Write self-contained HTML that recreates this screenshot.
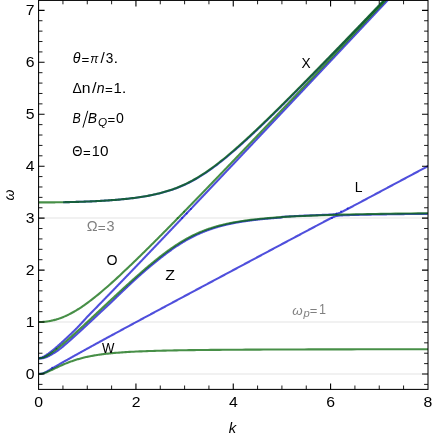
<!DOCTYPE html><html><head><meta charset="utf-8"><style>html,body{margin:0;padding:0;background:#fff}body{width:434px;height:437px;position:relative;overflow:hidden;font-family:"Liberation Sans",sans-serif}</style></head><body><svg width="434" height="437" viewBox="0 0 434 437" style="position:absolute;left:0;top:0;will-change:transform">
<rect x="0" y="0" width="434" height="437" fill="#fff"/>
<rect x="38.58" y="373.1" width="389.42" height="1.8" fill="#f0f0f0"/>
<rect x="38.58" y="321.1" width="389.42" height="1.8" fill="#f0f0f0"/>
<rect x="38.58" y="217.1" width="389.42" height="1.8" fill="#f0f0f0"/>
<clipPath id="c"><rect x="38.58" y="0.4" width="389.42" height="389.0"/></clipPath>
<g clip-path="url(#c)" fill="none" stroke-linejoin="round">
<path d="M63.12,202.21 L64.26,202.19 L65.44,202.16 L66.05,202.15 L66.68,202.14 L67.31,202.13 L67.96,202.11 L68.63,202.10 L69.31,202.08 L70.00,202.07 L70.71,202.05 L71.43,202.03 L72.17,202.01 L72.93,201.99 L73.70,201.97 L74.48,201.95 L75.28,201.93 L76.10,201.91 L76.93,201.88 L77.78,201.86 L78.65,201.83 L79.53,201.80 L80.43,201.77 L81.35,201.74 L82.29,201.71 L83.24,201.68 L84.22,201.64 L85.21,201.61 L86.21,201.57 L87.24,201.53 L88.29,201.48 L89.35,201.44 L90.43,201.39 L91.53,201.35 L92.65,201.30 L93.79,201.24 L94.95,201.19 L96.13,201.13 L97.32,201.07 L98.54,201.00 L99.77,200.94 L101.02,200.87 L102.29,200.79 L103.58,200.72 L104.89,200.63 L106.21,200.55 L107.55,200.46 L108.91,200.37 L110.29,200.27 L111.68,200.17 L113.10,200.06 L114.52,199.95 L115.97,199.84 L117.43,199.71 L118.90,199.59 L120.39,199.45 L121.89,199.31 L123.41,199.17 L124.94,199.01 L126.48,198.85 L128.04,198.68 L129.61,198.51 L131.19,198.32 L132.78,198.13 L134.38,197.92 L135.98,197.71 L137.60,197.49 L139.23,197.26 L140.86,197.01 L142.50,196.76 L144.15,196.49 L145.81,196.21 L147.47,195.91 L149.13,195.61 L150.81,195.29 L152.48,194.95 L154.16,194.59 L155.84,194.23 L157.53,193.84 L159.22,193.43 L160.92,193.01 L162.62,192.56 L164.32,192.10 L166.03,191.61 L167.74,191.10 L169.45,190.56 L171.17,190.00 L172.90,189.42 L174.63,188.80 L176.36,188.16 L178.11,187.48 L179.86,186.78 L181.62,186.04 L183.40,185.27 L185.18,184.46 L186.98,183.61 L188.79,182.72 L190.62,181.79 L192.47,180.81 L194.33,179.79 L196.22,178.72 L198.13,177.60 L200.07,176.43 L202.04,175.20 L204.04,173.91 L206.08,172.57 L208.15,171.16 L210.26,169.68 L212.41,168.13 L214.62,166.51 L216.87,164.82 L219.18,163.04 L221.54,161.18 L223.97,159.23 L226.46,157.19 L229.02,155.05 L231.67,152.81 L234.39,150.47 L235.01,149.93 L235.63,149.39 L236.25,148.85 L236.86,148.31 L237.48,147.77 L238.09,147.22 L238.70,146.68 L239.31,146.14 L239.92,145.60 L240.52,145.06 L241.12,144.52 L241.73,143.98 L242.33,143.44 L242.93,142.90 L243.52,142.35 L244.12,141.81 L244.72,141.27 L245.31,140.73 L245.90,140.19 L246.49,139.65 L247.08,139.11 L247.67,138.57 L248.26,138.03 L248.84,137.49 L249.43,136.94 L250.01,136.40 L250.59,135.86 L251.17,135.32 L251.75,134.78 L252.33,134.24 L252.91,133.70 L253.49,133.16 L254.06,132.62 L254.64,132.07 L255.21,131.53 L255.79,130.99 L256.36,130.45 L256.93,129.91 L257.50,129.37 L258.07,128.83 L258.64,128.29 L259.21,127.75 L259.78,127.20 L260.34,126.66 L260.91,126.12 L261.47,125.58 L262.04,125.04 L262.60,124.50 L263.17,123.96 L263.73,123.42 L264.29,122.88 L264.85,122.33 L265.41,121.79 L265.97,121.25 L266.53,120.71 L267.09,120.17 L267.64,119.63 L268.20,119.09 L268.76,118.55 L269.31,118.01 L269.87,117.47 L270.42,116.92 L270.98,116.38 L271.53,115.84 L272.09,115.30 L272.64,114.76 L273.19,114.22 L273.74,113.68 L274.29,113.14 L274.84,112.60 L275.39,112.05 L275.94,111.51 L276.49,110.97 L277.04,110.43 L277.59,109.89 L278.14,109.35 L278.68,108.81 L279.23,108.27 L279.78,107.73 L280.32,107.18 L280.87,106.64 L281.42,106.10 L281.96,105.56 L282.51,105.02 L283.05,104.48 L283.59,103.94 L284.14,103.40 L284.68,102.86 L285.22,102.32 L285.77,101.77 L286.31,101.23 L286.85,100.69 L287.39,100.15 L287.93,99.61 L288.47,99.07 L289.01,98.53 L289.55,97.99 L290.09,97.45 L290.63,96.90 L291.17,96.36 L291.71,95.82 L292.25,95.28 L292.79,94.74 L293.32,94.20 L293.86,93.66 L294.40,93.12 L294.94,92.58 L295.47,92.03 L296.01,91.49 L296.55,90.95 L297.08,90.41 L297.62,89.87 L298.15,89.33 L298.69,88.79 L299.22,88.25 L299.76,87.71 L300.29,87.17 L300.83,86.62 L301.36,86.08 L301.90,85.54 L302.43,85.00 L302.96,84.46 L303.50,83.92 L304.03,83.38 L304.56,82.84 L305.09,82.30 L305.63,81.75 L306.16,81.21 L306.69,80.67 L307.22,80.13 L307.75,79.59 L308.28,79.05 L308.82,78.51 L309.35,77.97 L309.88,77.43 L310.41,76.88 L310.94,76.34 L311.47,75.80 L312.00,75.26 L312.53,74.72 L313.06,74.18 L313.59,73.64 L314.12,73.10 L314.65,72.56 L315.17,72.02 L315.70,71.47 L316.23,70.93 L316.76,70.39 L317.29,69.85 L317.82,69.31 L318.34,68.77 L318.87,68.23 L319.40,67.69 L319.93,67.15 L320.45,66.60 L320.98,66.06 L321.51,65.52 L322.03,64.98 L322.56,64.44 L323.09,63.90 L323.61,63.36 L324.14,62.82 L324.67,62.28 L325.19,61.73 L325.72,61.19 L326.24,60.65 L326.77,60.11 L327.30,59.57 L327.82,59.03 L328.35,58.49 L328.87,57.95 L329.40,57.41 L329.92,56.87 L330.45,56.32 L330.97,55.78 L331.49,55.24 L332.02,54.70 L332.54,54.16 L333.07,53.62 L333.59,53.08 L334.12,52.54 L334.64,52.00 L335.16,51.45 L335.69,50.91 L336.21,50.37 L336.73,49.83 L337.26,49.29 L337.78,48.75 L338.30,48.21 L338.83,47.67 L339.35,47.13 L339.87,46.58 L340.39,46.04 L340.92,45.50 L341.44,44.96 L341.96,44.42 L342.48,43.88 L343.01,43.34 L343.53,42.80 L344.05,42.26 L344.57,41.71 L345.09,41.17 L345.61,40.63 L346.14,40.09 L346.66,39.55 L347.18,39.01 L347.70,38.47 L348.22,37.93 L348.74,37.39 L349.26,36.85 L349.78,36.30 L350.30,35.76 L350.83,35.22 L351.35,34.68 L351.87,34.14 L352.39,33.60 L352.91,33.06 L353.43,32.52 L353.95,31.98 L354.47,31.43 L354.99,30.89 L355.51,30.35 L356.03,29.81 L356.55,29.27 L357.07,28.73 L357.59,28.19 L358.11,27.65 L358.63,27.11 L359.15,26.56 L359.67,26.02 L360.19,25.48 L360.71,24.94 L361.22,24.40 L361.74,23.86 L362.26,23.32 L362.78,22.78 L363.30,22.24 L363.82,21.70 L364.34,21.15 L364.86,20.61 L365.38,20.07 L365.89,19.53 L366.41,18.99 L366.93,18.45 L367.45,17.91 L367.97,17.37 L368.49,16.83 L369.01,16.28 L369.52,15.74 L370.04,15.20 L370.56,14.66 L371.08,14.12 L371.60,13.58 L372.11,13.04 L372.63,12.50 L373.15,11.96 L373.67,11.41 L374.18,10.87 L374.70,10.33 L375.22,9.79 L375.74,9.25 L376.25,8.71 L376.77,8.17 L377.29,7.63 L377.81,7.09 L378.32,6.55 L378.84,6.00 L379.36,5.46 L379.88,4.92 L380.39,4.38 L380.91,3.84 L381.43,3.30 L381.94,2.76 L382.46,2.22 L382.98,1.68 L383.49,1.13 L384.01,0.59 L384.53,0.05 L385.04,-0.49 L385.56,-1.03 L386.08,-1.57 L386.59,-2.11 L387.11,-2.65 L387.63,-3.19 L388.14,-3.74 L388.66,-4.28 L389.17,-4.82 L389.69,-5.36 L390.21,-5.90 L390.72,-6.44 L391.24,-6.98 L391.75,-7.52 L392.27,-8.06 L392.79,-8.60 L393.30,-9.15 L393.82,-9.69 L394.33,-10.23 L394.85,-10.77 L395.37,-11.31 L395.88,-11.85 L396.40,-12.39 L396.91,-12.93 L397.43,-13.47 L397.94,-14.02 L398.46,-14.56 L398.97,-15.10 L399.49,-15.64 L400.00,-16.18 L400.52,-16.72 L401.03,-17.26 L401.55,-17.80 L402.07,-18.34 L402.58,-18.89 L403.10,-19.43 L403.61,-19.97 L404.13,-20.51" stroke="#0000cd" stroke-opacity="0.69" stroke-width="2.1"/>
<path d="M38.62,358.27 L39.27,358.13 L39.93,357.99 L40.58,357.82 L41.23,357.61 L41.89,357.36 L42.54,357.09 L43.19,356.79 L43.85,356.46 L44.50,356.11 L45.15,355.73 L45.80,355.34 L46.46,354.92 L47.11,354.49 L47.76,354.05 L48.42,353.59 L49.07,353.11 L49.72,352.63 L50.38,352.13 L51.03,351.63 L51.68,351.11 L52.34,350.59 L52.99,350.06 L53.64,349.52 L54.30,348.98 L54.62,348.71 L54.95,348.43 L55.28,348.16 L55.60,347.88 L55.93,347.60 L56.26,347.32 L56.58,347.04 L56.91,346.75 L57.23,346.47 L57.56,346.18 L57.89,345.90 L58.21,345.61 L58.54,345.32 L58.87,345.03 L59.19,344.74 L59.52,344.45 L59.85,344.16 L60.17,343.86 L60.50,343.57 L60.83,343.28 L61.15,342.98 L61.48,342.68 L61.81,342.38 L62.13,342.09 L62.46,341.79 L62.79,341.49 L63.11,341.19 L63.44,340.89 L63.77,340.58 L64.09,340.28 L64.42,339.98 L64.75,339.68 L65.07,339.38 L65.40,339.08 L65.73,338.77 L66.05,338.47 L66.38,338.17 L66.71,337.86 L67.03,337.56 L67.36,337.26 L67.69,336.95 L68.01,336.65 L68.34,336.34 L68.67,336.03 L68.99,335.73 L69.32,335.42 L69.64,335.11 L69.97,334.80 L70.30,334.49 L70.62,334.18 L70.95,333.87 L71.28,333.56 L71.60,333.24 L71.93,332.93 L72.26,332.61 L72.58,332.30 L72.91,331.98 L73.24,331.66 L73.56,331.34 L73.89,331.02 L74.22,330.70 L74.54,330.37 L74.87,330.05 L75.20,329.72 L75.52,329.40 L75.85,329.07 L76.18,328.74 L76.50,328.41 L76.83,328.07 L77.16,327.74 L77.48,327.40 L77.81,327.06 L78.14,326.72 L78.46,326.38 L78.79,326.04 L79.12,325.70 L79.44,325.36 L79.77,325.01 L80.10,324.66 L80.42,324.32 L80.75,323.97 L81.08,323.62 L81.40,323.27 L81.73,322.92 L82.05,322.56 L82.38,322.21 L82.71,321.85 L83.03,321.50 L83.36,321.14 L83.69,320.78 L84.01,320.43 L84.34,320.07 L84.67,319.71 L84.99,319.35 L85.32,318.98 L85.65,318.62 L85.97,318.26 L86.30,317.90 L86.63,317.53 L86.95,317.17 L87.28,316.80 L88.58,315.47 L90.47,313.53 L92.46,311.50 L94.53,309.37 L96.69,307.15 L98.96,304.83 L99.32,304.46 L99.74,304.03 L100.17,303.59 L100.59,303.16 L101.01,302.72 L101.44,302.29 L101.86,301.85 L102.28,301.42 L102.71,300.98 L103.13,300.55 L103.55,300.11 L103.98,299.68 L104.40,299.24 L104.82,298.81 L105.24,298.37 L105.67,297.94 L106.09,297.51 L106.51,297.07 L106.93,296.64 L107.36,296.20 L107.78,295.77 L108.20,295.33 L108.62,294.90 L109.04,294.46 L109.47,294.03 L109.89,293.59 L110.31,293.16 L110.73,292.72 L111.15,292.29 L111.57,291.85 L111.99,291.41 L112.41,290.98 L112.84,290.54 L113.26,290.11 L113.68,289.67 L114.10,289.24 L114.52,288.80 L114.94,288.37 L115.36,287.93 L115.78,287.50 L116.20,287.06 L116.62,286.63 L117.04,286.20 L117.46,285.76 L117.88,285.33 L118.30,284.89 L118.72,284.46 L119.14,284.02 L119.56,283.59 L119.98,283.15 L120.40,282.72 L120.82,282.28 L121.24,281.85 L121.66,281.42 L122.08,280.98 L122.50,280.55 L122.92,280.11 L123.34,279.68 L123.76,279.24 L124.18,278.81 L124.60,278.37 L125.02,277.94 L125.44,277.50 L125.86,277.07 L126.27,276.64 L126.69,276.20 L127.11,275.77 L127.53,275.33 L127.95,274.90 L128.37,274.46 L128.79,274.03 L129.21,273.59 L129.63,273.16 L130.04,272.72 L130.46,272.29 L130.88,271.85 L131.30,271.42 L131.72,270.98 L132.14,270.55 L132.56,270.11 L132.97,269.67 L133.39,269.24 L133.81,268.80 L134.23,268.37 L134.65,267.93 L135.06,267.49 L135.48,267.06 L135.90,266.62 L136.32,266.19 L136.74,265.75 L137.16,265.31 L137.57,264.88 L137.99,264.44 L138.41,264.00 L138.83,263.57 L139.24,263.13 L139.66,262.69 L140.08,262.26 L140.50,261.82 L140.92,261.38 L141.33,260.95 L141.75,260.51 L142.17,260.07 L142.59,259.64 L143.00,259.20 L143.42,258.76 L143.84,258.33 L144.26,257.89 L144.67,257.45 L145.09,257.02 L145.51,256.58 L145.92,256.14 L146.34,255.71 L146.76,255.27 L147.18,254.83 L147.59,254.40 L148.01,253.96 L148.43,253.52 L148.85,253.09 L149.26,252.65 L149.68,252.21 L150.10,251.77 L150.51,251.34 L150.93,250.90 L151.35,250.46 L151.76,250.03 L152.18,249.59 L152.60,249.15 L153.01,248.72 L153.43,248.28 L153.85,247.84 L154.26,247.40 L154.68,246.97 L155.10,246.53 L155.51,246.09 L155.93,245.66 L156.35,245.22 L156.76,244.78 L157.18,244.34 L157.60,243.91 L158.01,243.47 L158.43,243.03 L158.85,242.59 L159.26,242.16 L159.68,241.72 L160.10,241.28 L160.51,240.85 L160.93,240.41 L161.35,239.97 L161.76,239.53 L162.18,239.10 L162.59,238.66 L163.01,238.22 L163.43,237.78 L163.84,237.35 L164.26,236.91 L164.68,236.47 L165.09,236.03 L165.51,235.60 L165.92,235.16 L166.34,234.72 L166.76,234.28 L167.17,233.85 L167.59,233.41 L168.00,232.97 L168.42,232.53 L168.84,232.10 L169.25,231.66 L169.67,231.22 L170.08,230.78 L170.50,230.35 L170.92,229.91 L171.33,229.47 L171.75,229.03 L172.16,228.60 L172.58,228.16 L172.99,227.72 L173.41,227.28 L173.83,226.85 L174.24,226.41 L174.66,225.97 L175.07,225.53 L175.49,225.10 L175.90,224.66 L176.32,224.22 L176.74,223.78 L177.15,223.34 L177.57,222.91 L177.98,222.47 L178.40,222.03 L178.81,221.59 L179.23,221.16 L179.64,220.72 L180.06,220.28 L180.47,219.84 L180.89,219.41 L181.31,218.97 L181.72,218.53 L182.14,218.09 L182.55,217.66 L182.93,217.26 L183.23,216.94 L183.53,216.63 L183.83,216.31 L184.13,215.99 L184.43,215.67 L184.73,215.36 L185.03,215.04 L185.34,214.72 L185.64,214.40 L185.94,214.09 L186.24,213.77 L186.54,213.45 L186.84,213.14 L187.14,212.82 L187.44,212.50 L187.74,212.18 L188.04,211.87 L188.34,211.55 L188.65,211.23 L188.99,210.87 L189.34,210.50 L189.70,210.12 L190.06,209.74 L190.41,209.37 L190.77,208.99 L191.13,208.61 L191.49,208.24 L191.84,207.86 L192.20,207.48 L192.56,207.11 L192.91,206.73 L193.27,206.35 L193.63,205.98 L193.99,205.60 L194.34,205.22 L194.70,204.85 L195.06,204.47 L195.41,204.09 L195.77,203.72 L196.13,203.34 L196.49,202.96 L196.84,202.59 L197.20,202.21 L197.56,201.83 L198.12,201.24 L198.50,200.84 L198.88,200.44 L199.26,200.04 L199.64,199.63 L200.02,199.23 L200.40,198.83 L200.78,198.43 L201.16,198.03 L201.54,197.63 L201.92,197.23 L202.30,196.83 L202.68,196.42 L203.06,196.02 L203.44,195.62 L203.82,195.22 L204.21,194.82 L204.59,194.42 L204.97,194.02 L205.35,193.62 L205.73,193.21 L206.11,192.81 L206.49,192.41 L206.87,192.01 L207.25,191.61 L207.63,191.21 L208.01,190.81 L208.39,190.41 L208.77,190.00 L209.15,189.60 L209.53,189.20 L209.91,188.80 L210.29,188.40 L210.67,188.00 L211.05,187.60 L211.43,187.20 L211.81,186.79 L212.19,186.39 L212.57,185.99 L212.95,185.59 L213.33,185.19 L213.71,184.79 L214.09,184.39 L214.47,183.99 L214.85,183.58 L215.23,183.18 L215.61,182.78 L215.99,182.38 L216.37,181.98 L216.75,181.58 L217.13,181.18 L217.51,180.78 L217.89,180.37 L218.27,179.97 L218.65,179.57 L219.03,179.17 L219.41,178.77 L219.79,178.37 L220.17,177.97 L220.55,177.57 L220.93,177.16 L221.31,176.76 L221.69,176.36 L222.06,175.96 L222.44,175.56 L222.82,175.16 L223.20,174.76 L223.58,174.36 L223.96,173.95 L224.34,173.55 L224.72,173.15 L225.10,172.75 L225.48,172.35 L225.86,171.95 L226.24,171.55 L226.62,171.15 L227.00,170.74 L227.38,170.34 L227.76,169.94 L228.14,169.54 L228.52,169.14 L228.90,168.74 L229.28,168.34 L229.66,167.94 L230.04,167.53 L230.42,167.13 L230.80,166.73 L231.18,166.33 L231.56,165.93 L231.94,165.53 L232.32,165.13 L232.70,164.73 L233.08,164.32 L233.46,163.92 L233.84,163.52 L234.21,163.12 L234.59,162.72 L234.97,162.32 L235.35,161.92 L235.73,161.52 L236.11,161.11 L236.49,160.71 L236.87,160.31 L237.25,159.91 L237.63,159.51 L238.01,159.11 L238.39,158.71 L238.77,158.30 L239.15,157.90 L239.53,157.50 L239.91,157.10 L240.29,156.70 L240.67,156.30 L241.05,155.90 L241.43,155.50 L241.81,155.09 L242.18,154.69 L242.56,154.29 L242.94,153.89 L243.32,153.49 L243.70,153.09 L244.08,152.69 L244.46,152.29 L244.84,151.88 L245.22,151.48 L245.60,151.08 L245.98,150.68 L246.36,150.28 L246.74,149.88 L247.12,149.48 L247.50,149.08 L247.88,148.67 L248.26,148.27 L248.63,147.87 L249.01,147.47 L249.39,147.07 L249.77,146.67 L250.15,146.27 L250.53,145.86 L250.91,145.46 L251.29,145.06 L251.67,144.66 L252.05,144.26 L252.43,143.86 L252.81,143.46 L253.19,143.06 L253.57,142.65 L253.94,142.25 L254.32,141.85 L254.70,141.45 L255.08,141.05 L255.46,140.65 L255.84,140.25 L256.22,139.84 L256.60,139.44 L256.98,139.04 L257.36,138.64 L257.74,138.24 L258.12,137.84 L258.50,137.44 L258.87,137.04 L259.25,136.63 L259.63,136.23 L260.01,135.83 L260.39,135.43 L260.77,135.03 L261.15,134.63 L261.53,134.23 L261.91,133.82 L262.29,133.42 L262.67,133.02 L263.05,132.62 L263.42,132.22 L263.80,131.82 L264.18,131.42 L264.56,131.02 L264.94,130.61 L265.32,130.21 L265.70,129.81 L266.08,129.41 L266.46,129.01 L266.84,128.61 L267.22,128.21 L267.60,127.80 L267.97,127.40 L268.35,127.00 L268.73,126.60 L269.11,126.20 L269.49,125.80 L269.87,125.40 L270.25,124.99 L270.63,124.59 L271.01,124.19 L271.39,123.79 L271.77,123.39 L272.14,122.99 L272.52,122.59 L272.90,122.18 L273.28,121.78 L273.66,121.38 L274.04,120.98 L274.42,120.58 L274.80,120.18 L275.18,119.78 L275.56,119.37 L275.93,118.97 L276.31,118.57 L276.69,118.17 L277.07,117.77 L277.45,117.37 L277.83,116.97 L278.21,116.56 L278.59,116.16 L278.97,115.76 L279.35,115.36 L279.72,114.96 L280.10,114.56 L280.48,114.15 L280.86,113.75 L281.24,113.35 L281.62,112.95 L282.00,112.55 L282.38,112.15 L282.76,111.75 L283.13,111.34 L283.51,110.94 L283.89,110.54 L284.27,110.14 L284.65,109.74 L285.03,109.34 L285.41,108.93 L285.79,108.53 L286.17,108.13 L286.54,107.73 L286.92,107.33 L287.30,106.93 L287.68,106.53 L288.06,106.12 L288.44,105.72 L288.82,105.32 L289.20,104.92 L289.58,104.52 L289.95,104.12 L290.33,103.71 L290.71,103.31 L291.09,102.91 L291.47,102.51 L291.85,102.11 L292.23,101.71 L292.61,101.31 L292.99,100.90 L293.36,100.50 L293.74,100.10 L294.12,99.70 L294.50,99.30 L294.88,98.90 L295.26,98.49 L295.64,98.09 L296.02,97.69 L296.39,97.29 L296.77,96.89 L297.15,96.49 L297.53,96.08 L297.91,95.68 L298.29,95.28 L298.67,94.88 L299.05,94.48 L299.42,94.08 L299.80,93.67 L300.18,93.27 L300.56,92.87 L300.94,92.47 L301.32,92.07 L301.70,91.67 L302.08,91.26 L302.45,90.86 L302.83,90.46 L303.21,90.06 L303.59,89.66 L303.97,89.26 L304.35,88.85 L304.73,88.45 L305.11,88.05 L305.48,87.65 L305.86,87.25 L306.24,86.84 L306.62,86.44 L307.00,86.04 L307.38,85.64 L307.76,85.24 L308.14,84.84 L308.51,84.43 L308.89,84.03 L309.27,83.63 L309.65,83.23 L310.03,82.83 L310.41,82.43 L310.79,82.02 L311.17,81.62 L311.54,81.22 L311.92,80.82 L312.30,80.42 L312.68,80.01 L313.06,79.61 L313.44,79.21 L313.82,78.81 L314.19,78.41 L314.57,78.01 L314.95,77.60 L315.33,77.20 L315.71,76.80 L316.09,76.40 L316.47,76.00 L316.84,75.59 L317.22,75.19 L317.60,74.79 L317.98,74.39 L318.36,73.99 L318.74,73.58 L319.12,73.18 L319.50,72.78 L319.87,72.38 L320.25,71.98 L320.63,71.58 L321.01,71.17 L321.39,70.77 L321.77,70.37 L322.15,69.97 L322.52,69.57 L322.90,69.16 L323.28,68.76 L323.66,68.36 L324.04,67.96 L324.42,67.56 L324.80,67.15 L325.17,66.75 L325.55,66.35 L325.93,65.95 L326.31,65.55 L326.69,65.14 L327.07,64.74 L327.45,64.34 L327.82,63.94 L328.20,63.54 L328.58,63.13 L328.96,62.73 L329.34,62.33 L329.72,61.93 L330.10,61.53 L330.47,61.12 L330.85,60.72 L331.23,60.32 L331.61,59.92 L331.99,59.52 L332.37,59.11 L332.74,58.71 L333.12,58.31 L333.50,57.91 L333.88,57.50 L334.26,57.10 L334.64,56.70 L335.02,56.30 L335.39,55.90 L335.77,55.49 L336.15,55.09 L336.53,54.69 L336.91,54.29 L337.29,53.89 L337.67,53.48 L338.04,53.08 L338.42,52.68 L338.80,52.28 L339.18,51.87 L339.56,51.47 L339.94,51.07 L340.31,50.67 L340.69,50.27 L341.07,49.86 L341.45,49.46 L341.83,49.06 L342.21,48.66 L342.59,48.25 L342.96,47.85 L343.34,47.45 L343.72,47.05 L344.10,46.65 L344.48,46.24 L344.86,45.84 L345.23,45.44 L345.61,45.04 L345.99,44.63 L346.37,44.23 L346.75,43.83 L347.13,43.43 L347.51,43.02 L347.88,42.62 L348.26,42.22 L348.64,41.82 L349.02,41.42 L349.40,41.01 L349.78,40.61 L350.15,40.21 L350.53,39.81 L350.91,39.40 L351.29,39.00 L351.67,38.60 L352.05,38.20 L352.42,37.79 L352.80,37.39 L353.18,36.99 L353.56,36.59 L353.94,36.18 L354.32,35.78 L354.69,35.38 L355.07,34.98 L355.45,34.57 L355.83,34.17 L356.21,33.77 L356.59,33.37 L356.97,32.96 L357.34,32.56 L357.72,32.16 L358.10,31.76 L358.48,31.35 L358.86,30.95 L359.24,30.55 L359.61,30.15 L359.99,29.74 L360.37,29.34 L360.75,28.94 L361.13,28.54 L361.51,28.13 L361.88,27.73 L362.26,27.33 L362.64,26.93 L363.02,26.52 L363.40,26.12 L363.78,25.72 L364.15,25.32 L364.53,24.91 L364.91,24.51 L365.29,24.11 L365.67,23.71 L366.05,23.30 L366.42,22.90 L366.80,22.50 L367.18,22.09 L367.56,21.69 L367.94,21.29 L368.32,20.89 L368.69,20.48 L369.07,20.08 L369.45,19.68 L369.83,19.28 L370.21,18.87 L370.59,18.47 L370.96,18.07 L371.34,17.66 L371.72,17.26 L372.10,16.86 L372.48,16.46 L372.86,16.05 L373.23,15.65 L373.61,15.25 L373.99,14.84 L374.37,14.44 L374.75,14.04 L375.12,13.64 L375.50,13.23 L375.88,12.83 L376.26,12.43 L376.64,12.02 L377.02,11.62 L377.39,11.22 L377.77,10.82 L378.15,10.41 L378.53,10.01 L378.91,9.61 L379.29,9.20 L379.66,8.80 L380.04,8.40 L380.42,8.00 L380.80,7.59 L381.18,7.19 L381.56,6.79 L381.93,6.38 L382.31,5.98 L382.69,5.58 L383.07,5.18 L383.45,4.77 L383.82,4.37 L384.20,3.97 L384.58,3.56 L384.96,3.16 L385.34,2.76 L385.72,2.35 L386.09,1.95 L386.47,1.55 L386.85,1.15 L387.23,0.74 L387.61,0.34 L387.99,-0.06 L388.36,-0.47 L388.74,-0.87 L389.12,-1.27 L389.50,-1.67 L389.88,-2.08 L390.25,-2.48 L390.63,-2.88 L391.01,-3.29 L391.39,-3.69 L391.77,-4.09 L392.15,-4.49 L392.52,-4.90 L392.90,-5.30 L393.28,-5.70 L393.66,-6.11 L394.04,-6.51 L394.42,-6.91 L394.79,-7.32 L395.17,-7.72 L395.55,-8.12 L395.93,-8.52 L396.31,-8.93 L396.68,-9.33 L397.06,-9.73 L397.44,-10.14 L397.82,-10.54 L398.20,-10.94 L398.58,-11.34 L398.95,-11.75 L399.33,-12.15 L399.71,-12.55 L400.09,-12.96 L400.47,-13.36 L400.84,-13.76 L401.22,-14.17 L401.60,-14.57 L401.98,-14.97 L402.36,-15.37 L402.74,-15.78 L403.11,-16.18 L403.49,-16.58 L403.87,-16.99 L404.25,-17.39 L404.63,-17.79 L405.00,-18.19 L405.38,-18.60 L405.76,-19.00 L406.14,-19.40 L406.52,-19.81 L406.89,-20.21 L407.27,-20.61" stroke="#0000cd" stroke-opacity="0.69" stroke-width="2.1"/>
<path d="M38.62,358.27 L39.35,358.33 L40.09,358.38 L40.82,358.39 L41.55,358.34 L42.29,358.25 L43.02,358.13 L43.75,357.96 L44.49,357.76 L45.22,357.53 L45.96,357.26 L46.69,356.97 L47.42,356.66 L48.16,356.32 L48.89,355.96 L49.62,355.57 L50.36,355.17 L51.09,354.76 L51.82,354.33 L52.56,353.90 L53.29,353.45 L54.02,353.00 L54.76,352.53 L55.13,352.30 L55.49,352.06 L55.86,351.82 L56.23,351.57 L56.59,351.33 L56.96,351.08 L57.33,350.83 L57.69,350.57 L58.06,350.31 L58.43,350.05 L58.79,349.79 L59.16,349.52 L59.53,349.25 L59.89,348.97 L60.26,348.69 L60.63,348.41 L60.99,348.12 L61.36,347.84 L61.73,347.54 L62.09,347.24 L62.46,346.94 L62.83,346.64 L63.19,346.33 L63.56,346.01 L63.93,345.70 L64.29,345.39 L64.66,345.07 L65.03,344.76 L65.40,344.44 L65.76,344.13 L66.13,343.81 L66.50,343.49 L66.86,343.17 L67.23,342.85 L67.60,342.53 L67.96,342.21 L68.33,341.89 L68.70,341.57 L69.06,341.24 L69.43,340.92 L69.80,340.60 L70.16,340.27 L70.53,339.95 L70.90,339.62 L71.26,339.29 L71.63,338.97 L72.00,338.64 L72.36,338.31 L72.73,337.98 L73.10,337.65 L73.46,337.32 L73.83,336.99 L74.20,336.66 L74.56,336.33 L74.93,336.00 L75.30,335.67 L75.67,335.33 L76.03,335.00 L76.40,334.67 L76.77,334.33 L77.13,334.00 L77.50,333.67 L77.87,333.33 L78.23,333.00 L78.60,332.66 L78.97,332.33 L79.33,331.99 L79.70,331.65 L80.07,331.32 L80.43,330.98 L80.80,330.64 L81.17,330.30 L81.53,329.97 L81.90,329.63 L82.27,329.29 L82.63,328.95 L83.00,328.61 L83.37,328.28 L83.73,327.94 L84.10,327.60 L84.47,327.26 L84.83,326.92 L85.20,326.58 L85.57,326.24 L85.94,325.90 L86.30,325.56 L86.67,325.22 L87.04,324.87 L87.40,324.53 L87.77,324.19 L88.14,323.85 L88.50,323.51 L88.87,323.17 L89.24,322.83 L89.60,322.48 L89.97,322.14 L90.34,321.80 L90.70,321.46 L91.07,321.12 L91.44,320.77 L91.80,320.43 L92.17,320.09 L92.54,319.75 L92.90,319.41 L93.27,319.06 L93.64,318.72 L94.00,318.38 L94.37,318.03 L94.74,317.69 L95.10,317.35 L95.47,317.01 L95.84,316.66 L96.21,316.32 L96.57,315.98 L96.94,315.63 L97.31,315.29 L97.67,314.95 L98.04,314.60 L98.41,314.26 L98.77,313.92 L99.14,313.58 L99.51,313.23 L99.87,312.89 L100.24,312.55 L100.61,312.20 L100.97,311.86 L101.34,311.52 L101.71,311.17 L102.07,310.83 L102.44,310.49 L102.81,310.15 L103.17,309.80 L103.54,309.46 L103.91,309.12 L104.27,308.77 L104.64,308.43 L105.01,308.09 L105.37,307.75 L105.74,307.40 L106.11,307.06 L106.48,306.72 L106.84,306.38 L107.21,306.03 L107.58,305.69 L107.94,305.35 L108.31,305.01 L108.68,304.67 L109.04,304.32 L109.41,303.98 L109.78,303.64 L110.14,303.30 L110.51,302.96 L110.88,302.62 L111.24,302.27 L111.61,301.93 L111.98,301.58 L112.34,301.22 L112.71,300.86 L113.07,300.51 L113.44,300.15 L113.80,299.80 L114.17,299.44 L114.53,299.09 L114.90,298.73 L115.26,298.38 L115.63,298.03 L115.99,297.67 L116.36,297.32 L116.72,296.97 L117.09,296.61 L117.45,296.26 L117.82,295.91 L118.18,295.56 L118.55,295.21 L118.91,294.85 L119.28,294.50 L119.64,294.15 L120.01,293.80 L120.37,293.45 L120.74,293.10 L121.10,292.75 L121.47,292.41 L121.83,292.06 L122.20,291.71 L122.56,291.36 L122.93,291.01 L123.29,290.66 L123.66,290.32 L124.02,289.97 L124.39,289.62 L124.75,289.28 L125.12,288.93 L125.48,288.59 L125.85,288.24 L126.21,287.90 L126.58,287.55 L126.94,287.21 L127.31,286.87 L127.67,286.52 L128.04,286.18 L128.40,285.84 L128.77,285.49 L129.13,285.15 L129.50,284.81 L129.86,284.47 L130.23,284.13 L130.59,283.79 L130.96,283.45 L131.32,283.11 L131.69,282.77 L132.05,282.43 L132.42,282.09 L132.78,281.76 L133.15,281.42 L133.51,281.08 L133.88,280.74 L134.24,280.41 L134.61,280.07 L134.97,279.74 L135.34,279.40 L135.70,279.07 L136.07,278.73 L136.43,278.40 L136.80,278.06 L137.17,277.73 L137.53,277.40 L137.90,277.07 L138.26,276.74 L138.63,276.41 L138.99,276.09 L139.36,275.76 L139.72,275.43 L140.09,275.11 L140.45,274.78 L140.82,274.46 L141.18,274.14 L141.55,273.82 L141.91,273.49 L142.28,273.17 L142.64,272.85 L143.01,272.53 L143.37,272.22 L143.74,271.90 L144.10,271.58 L144.47,271.27 L144.83,270.95 L145.20,270.64 L145.56,270.32 L145.93,270.01 L146.29,269.70 L146.66,269.38 L147.02,269.07 L147.39,268.76 L147.75,268.45 L148.12,268.14 L148.48,267.84 L148.85,267.53 L149.21,267.22 L149.58,266.91 L149.94,266.61 L150.31,266.30 L150.67,266.00 L151.04,265.69 L151.40,265.39 L151.77,265.09 L152.13,264.79 L152.50,264.49 L152.86,264.19 L153.23,263.89 L153.59,263.59 L153.96,263.29 L154.32,262.99 L154.69,262.69 L155.05,262.39 L155.42,262.10 L155.78,261.80 L156.15,261.51 L156.51,261.21 L156.88,260.92 L157.24,260.62 L157.61,260.33 L157.97,260.04 L158.34,259.75 L158.70,259.46 L159.07,259.17 L159.43,258.88 L159.80,258.59 L160.16,258.30 L160.53,258.01 L160.89,257.72 L161.26,257.43 L161.62,257.15 L161.99,256.86 L162.35,256.58 L162.72,256.30 L163.09,256.01 L163.45,255.73 L163.82,255.45 L164.18,255.17 L164.55,254.89 L164.91,254.61 L165.28,254.34 L165.64,254.06 L166.01,253.78 L166.37,253.51 L166.74,253.24 L167.10,252.96 L167.47,252.69 L167.83,252.42 L168.20,252.15 L168.56,251.88 L168.93,251.62 L169.29,251.35 L169.66,251.08 L170.02,250.82 L170.39,250.56 L170.75,250.29 L171.12,250.03 L171.48,249.77 L171.85,249.51 L172.21,249.25 L172.58,249.00 L172.94,248.74 L173.31,248.49 L173.67,248.23 L174.04,247.98 L174.40,247.73 L174.77,247.48 L175.13,247.23 L175.50,246.98 L175.86,246.74 L176.23,246.49 L176.59,246.25 L176.96,246.00 L177.32,245.76 L177.69,245.52 L178.05,245.28 L178.42,245.04 L178.78,244.81 L179.15,244.57 L179.64,244.26 L180.12,243.95 L180.61,243.64 L181.10,243.34 L181.58,243.03 L182.07,242.73 L182.56,242.43 L183.04,242.14 L183.53,241.84 L184.02,241.55 L184.50,241.26 L184.99,240.98 L185.48,240.69 L185.96,240.41 L186.45,240.13 L186.94,239.86 L187.42,239.58 L187.91,239.31 L188.40,239.04 L188.88,238.78 L189.37,238.51 L189.86,238.25 L190.34,237.99 L190.83,237.74 L191.32,237.48 L191.80,237.23 L192.29,236.98 L192.78,236.73 L193.26,236.49 L193.75,236.25 L194.24,236.01 L194.72,235.77 L195.21,235.54 L195.70,235.30 L196.18,235.07 L196.67,234.84 L197.16,234.62 L197.65,234.40 L198.13,234.17 L198.62,233.96 L199.11,233.74 L199.59,233.52 L200.08,233.31 L200.57,233.10 L201.05,232.89 L201.54,232.69 L202.03,232.49 L202.51,232.28 L203.00,232.08 L203.49,231.89 L203.97,231.69 L204.46,231.50 L204.95,231.31 L205.43,231.12 L205.92,230.93 L206.41,230.74 L206.89,230.56 L207.38,230.38 L207.87,230.20 L208.35,230.02 L208.84,229.84 L209.33,229.67 L209.81,229.49 L210.30,229.32 L210.79,229.16 L211.27,228.99 L211.76,228.82 L212.25,228.66 L212.73,228.50 L213.22,228.34 L213.71,228.18 L214.20,228.03 L214.68,227.88 L215.17,227.72 L215.66,227.58 L216.14,227.43 L216.63,227.28 L217.12,227.14 L217.60,226.99 L218.09,226.85 L218.58,226.71 L219.06,226.58 L219.55,226.44 L220.04,226.31 L220.52,226.18 L221.01,226.04 L221.50,225.92 L221.98,225.79 L222.47,225.66 L222.96,225.54 L223.44,225.41 L223.93,225.29 L224.42,225.17 L224.90,225.05 L225.39,224.94 L225.88,224.82 L226.36,224.71 L226.97,224.57 L227.58,224.43 L228.19,224.29 L228.80,224.16 L229.41,224.02 L230.01,223.89 L230.62,223.77 L231.23,223.64 L231.84,223.51 L232.45,223.39 L233.06,223.27 L233.67,223.15 L234.27,223.03 L234.88,222.92 L235.49,222.80 L236.10,222.69 L236.71,222.58 L237.32,222.47 L237.92,222.37 L238.53,222.26 L239.14,222.16 L239.75,222.05 L240.36,221.95 L240.97,221.85 L241.58,221.75 L242.18,221.66 L242.79,221.56 L243.40,221.47 L244.01,221.38 L244.62,221.28 L245.23,221.19 L245.83,221.10 L246.44,221.02 L247.05,220.93 L247.66,220.85 L248.27,220.76 L248.88,220.68 L249.49,220.60 L250.09,220.52 L250.70,220.44 L251.31,220.36 L251.92,220.28 L252.53,220.21 L253.14,220.13 L253.74,220.06 L254.35,219.98 L254.96,219.91 L255.57,219.84 L256.18,219.77 L256.79,219.70 L257.40,219.63 L258.00,219.57 L258.61,219.50 L259.22,219.43 L259.83,219.37 L260.44,219.31 L261.05,219.24 L261.65,219.18 L262.26,219.12 L262.87,219.06 L263.48,219.00 L264.09,218.94 L264.70,218.88 L265.31,218.82 L265.91,218.77 L266.52,218.71 L267.13,218.66 L267.74,218.60 L268.35,218.55 L268.96,218.49 L269.56,218.44 L270.17,218.39 L270.78,218.34 L271.39,218.29 L272.00,218.24 L272.61,218.19 L273.22,218.14 L273.82,218.09 L274.43,218.04 L275.04,217.99 L275.65,217.95 L276.26,217.90 L276.87,217.85 L277.47,217.81 L278.08,217.77 L278.69,217.72 L279.30,217.68 L279.91,217.63 L280.52,217.59 L281.12,217.55 L281.73,217.51 L281.98,216.85 L282.59,216.81 L283.19,216.77 L283.80,216.74 L284.41,216.70 L285.02,216.66 L285.63,216.63 L286.24,216.59 L286.84,216.55 L287.45,216.52 L288.06,216.48 L288.67,216.44 L289.28,216.41 L289.89,216.38 L290.50,216.34 L291.10,216.31 L291.71,216.28 L292.32,216.24 L292.93,216.21 L293.54,216.18 L294.15,216.15 L294.75,216.11 L295.36,216.08 L295.97,216.05 L296.58,216.02 L297.19,215.99 L297.80,215.96 L298.41,215.93 L299.01,215.90 L299.62,215.87 L300.23,215.84 L300.84,215.81 L301.45,215.78 L302.06,215.75 L302.66,215.73 L303.27,215.70 L303.88,215.67 L304.49,215.64 L305.10,215.62 L305.71,215.59 L306.31,215.57 L306.92,215.54 L307.53,215.51 L308.14,215.49 L308.75,215.46 L309.36,215.43 L309.97,215.41 L310.57,215.38 L311.18,215.36 L311.79,215.33 L312.40,215.31 L313.01,215.28 L313.62,215.26 L314.22,215.24 L314.83,215.21 L315.44,215.19 L316.05,215.17 L316.66,215.14 L317.27,215.12 L317.88,215.09 L318.48,215.07 L319.09,215.05 L319.70,215.02 L320.31,215.00 L320.92,214.97 L321.53,214.95 L322.13,214.92 L322.74,214.90 L323.35,214.88 L323.96,214.86 L324.57,214.83 L325.18,214.81 L325.79,214.78 L326.39,214.76 L327.00,214.73 L327.61,214.71 L328.22,214.68 L328.83,214.65 L329.44,214.62 L330.04,214.59 L330.65,214.56 L331.26,214.52 L331.87,214.48 L332.48,214.44 L333.09,214.39 L333.70,214.34 L334.30,214.28 L334.91,214.20 L335.52,214.11 L336.13,214.01 L336.74,213.88 L337.22,213.75 L337.71,213.61 L338.20,213.45 L338.68,213.27 L339.17,213.08 L339.66,212.88 L340.14,212.67 L340.63,212.44 L341.12,212.22 L341.61,211.98 L342.09,211.75 L342.58,211.51 L343.07,211.27 L343.55,211.02 L344.04,210.77 L344.53,210.53 L345.01,210.28 L345.50,210.03 L345.99,209.78 L346.47,209.52 L346.96,209.27 L347.45,209.02 L347.93,208.76 L348.42,208.51 L348.91,208.25 L349.39,208.00 L349.88,207.74 L350.37,207.49 L350.85,207.23 L351.34,206.97 L351.83,206.72 L352.31,206.46 L352.80,206.20 L353.29,205.95 L353.77,205.69 L354.26,205.43 L354.75,205.17 L355.23,204.91 L355.72,204.66 L356.21,204.40 L356.69,204.14 L357.18,203.88 L357.67,203.62 L358.16,203.37 L358.64,203.11 L359.13,202.85 L359.62,202.59 L360.10,202.33 L360.59,202.07 L361.08,201.81 L361.56,201.56 L362.05,201.30 L362.54,201.04 L363.02,200.78 L363.51,200.52 L364.00,200.26 L364.48,200.00 L364.97,199.74 L365.46,199.49 L365.94,199.23 L366.43,198.97 L366.92,198.71 L367.40,198.45 L367.89,198.19 L368.38,197.93 L368.86,197.67 L369.35,197.41 L369.84,197.15 L370.32,196.89 L370.81,196.63 L371.30,196.38 L371.78,196.12 L372.27,195.86 L372.76,195.60 L373.24,195.34 L373.73,195.08 L374.22,194.82 L374.70,194.56 L375.19,194.30 L375.68,194.04 L376.17,193.78 L376.65,193.52 L377.14,193.26 L377.63,193.00 L378.11,192.74 L378.60,192.48 L379.09,192.23 L379.57,191.97 L380.06,191.71 L380.55,191.45 L381.03,191.19 L381.52,190.93 L382.01,190.67 L382.49,190.41 L382.98,190.15 L383.47,189.89 L383.95,189.63 L384.44,189.37 L384.93,189.11 L385.41,188.85 L385.90,188.59 L386.39,188.33 L386.87,188.07 L387.36,187.81 L387.85,187.55 L388.33,187.29 L388.82,187.03 L389.31,186.78 L389.79,186.52 L390.28,186.26 L390.77,186.00 L391.25,185.74 L391.74,185.48 L392.23,185.22 L392.72,184.96 L393.20,184.70 L393.69,184.44 L394.18,184.18 L394.66,183.92 L395.15,183.66 L395.64,183.40 L396.12,183.14 L396.61,182.88 L397.10,182.62 L397.58,182.36 L398.07,182.10 L398.56,181.84 L399.04,181.58 L399.53,181.32 L400.02,181.06 L400.50,180.80 L400.99,180.54 L401.48,180.28 L401.96,180.02 L402.45,179.76 L402.94,179.50 L403.42,179.25 L403.91,178.99 L404.40,178.73 L404.88,178.47 L405.37,178.21 L405.86,177.95 L406.34,177.69 L406.83,177.43 L407.32,177.17 L407.80,176.91 L408.29,176.65 L408.78,176.39 L409.27,176.13 L409.75,175.87 L410.24,175.61 L410.73,175.35 L411.21,175.09 L411.70,174.83 L412.19,174.57 L412.67,174.31 L413.16,174.05 L413.65,173.79 L414.13,173.53 L414.62,173.27 L415.11,173.01 L415.59,172.75 L416.08,172.49 L416.57,172.23 L417.05,171.97 L417.54,171.71 L418.03,171.45 L418.51,171.19 L419.00,170.93 L419.49,170.67 L419.97,170.41 L420.46,170.16 L420.95,169.90 L421.43,169.64 L421.92,169.38 L422.41,169.12 L422.89,168.86 L423.38,168.60 L423.87,168.34 L424.35,168.08 L424.84,167.82 L425.33,167.56 L425.82,167.30 L426.30,167.04 L426.79,166.78 L427.28,166.52 L427.76,166.26 L428.25,166.00 L428.74,165.74 L429.22,165.48 L429.71,165.22 L430.20,164.96 L430.68,164.70 L431.17,164.44 L431.66,164.18 L432.14,163.92 L432.63,163.66 L433.12,163.40 L433.60,163.14 L434.09,162.88 L434.58,162.62 L435.06,162.36 L435.55,162.10 L436.04,161.84 L436.52,161.58 L437.01,161.32 L437.50,161.06 L437.98,160.80 L438.47,160.54 L438.96,160.28 L439.44,160.02 L439.93,159.76 L440.42,159.50 L440.90,159.25 L441.39,158.99 L441.88,158.73 L442.36,158.47 L442.85,158.21 L443.34,157.95 L443.83,157.69 L444.31,157.43 L444.80,157.17 L445.29,156.91 L445.77,156.65 L446.26,156.39 L446.75,156.13 L447.23,155.87 L447.72,155.61 L448.21,155.35 L448.69,155.09 L449.18,154.83 L449.67,154.57 L450.15,154.31 L450.64,154.05 L451.13,153.79 L451.61,153.53 L452.10,153.27 L452.59,153.01 L453.07,152.75 L453.56,152.49 L454.05,152.23 L454.53,151.97 L455.02,151.71 L455.51,151.45 L455.99,151.19 L456.48,150.93 L456.97,150.67" stroke="#0000cd" stroke-opacity="0.69" stroke-width="2.1"/>
<path d="M38.62,373.90 L39.35,373.86 L40.09,373.81 L40.82,373.73 L41.55,373.62 L42.29,373.47 L43.02,373.29 L43.75,373.08 L44.49,372.86 L45.22,372.43 L45.96,372.00 L46.69,371.57 L47.42,371.14 L48.16,370.71 L48.89,370.28 L49.62,369.86 L50.36,369.43 L51.09,369.00 L51.82,368.58 L52.56,368.16 L53.29,367.73 L54.02,367.31 L54.76,366.89 L55.49,366.47 L56.23,366.05 L56.96,365.62 L57.69,365.21 L58.43,364.79 L59.16,364.37 L59.89,363.95 L60.63,363.53 L61.36,363.11 L62.09,362.70 L62.83,362.28 L63.56,361.87 L64.29,361.45 L65.03,361.04 L65.76,360.62 L66.50,360.21 L67.23,359.80 L67.96,359.38 L68.70,358.97 L69.43,358.56 L70.16,358.15 L70.90,357.74 L71.63,357.32 L72.36,356.91 L73.10,356.50 L73.83,356.09 L74.56,355.69 L75.30,355.28 L76.03,354.87 L76.77,354.46 L77.50,354.05 L78.23,353.64 L78.97,353.24 L79.70,352.83 L80.43,352.42 L81.17,352.02 L81.90,351.61 L82.63,351.20 L83.37,350.80 L84.10,350.39 L84.83,349.99 L85.57,349.58 L86.30,349.18 L87.04,348.78 L87.77,348.37 L88.50,347.97 L89.24,347.56 L89.97,347.16 L90.70,346.76 L91.44,346.36 L92.17,345.95 L92.90,345.55 L93.64,345.15 L94.37,344.75 L95.10,344.35 L95.84,343.94 L96.57,343.54 L97.31,343.14 L98.04,342.74 L98.77,342.34 L99.51,341.94 L100.24,341.54 L100.97,341.14 L101.71,340.74 L102.44,340.34 L103.17,339.94 L103.91,339.54 L104.64,339.14 L105.37,338.74 L106.11,338.34 L106.84,337.94 L107.58,337.54 L108.31,337.15 L109.04,336.75 L109.78,336.35 L110.51,335.95 L111.24,335.55 L111.73,335.29 L112.22,335.02 L112.71,334.76 L113.19,334.50 L113.68,334.23 L114.17,333.97 L114.65,333.70 L115.14,333.44 L115.63,333.18 L116.11,332.91 L116.60,332.65 L117.09,332.39 L117.57,332.12 L118.06,331.86 L118.55,331.60 L119.03,331.33 L119.52,331.07 L120.01,330.81 L120.49,330.54 L120.98,330.28 L121.47,330.02 L121.95,329.75 L122.44,329.49 L122.93,329.23 L123.41,328.97 L123.90,328.70 L124.39,328.44 L124.87,328.18 L125.36,327.91 L125.85,327.65 L126.33,327.39 L126.82,327.13 L127.31,326.86 L127.79,326.60 L128.28,326.34 L128.77,326.08 L129.26,325.81 L129.74,325.55 L130.23,325.29 L130.72,325.03 L131.20,324.76 L131.69,324.50 L132.18,324.24 L132.66,323.98 L133.15,323.72 L133.64,323.45 L134.12,323.19 L134.61,322.93 L135.10,322.67 L135.58,322.40 L136.07,322.14 L136.56,321.88 L137.04,321.62 L137.53,321.36 L138.02,321.09 L138.50,320.83 L138.99,320.57 L139.48,320.31 L139.96,320.05 L140.45,319.79 L140.94,319.52 L141.42,319.26 L141.91,319.00 L142.40,318.74 L142.88,318.48 L143.37,318.22 L143.86,317.95 L144.34,317.69 L144.83,317.43 L145.32,317.17 L145.81,316.91 L146.29,316.65 L146.78,316.39 L147.27,316.12 L147.75,315.86 L148.24,315.60 L148.73,315.34 L149.21,315.08 L149.70,314.82 L150.19,314.56 L150.67,314.29 L151.16,314.03 L151.65,313.77 L152.13,313.51 L152.62,313.25 L153.11,312.99 L153.59,312.73 L154.08,312.47 L154.57,312.20 L155.05,311.94 L155.54,311.68 L156.03,311.42 L156.51,311.16 L157.00,310.90 L157.49,310.64 L157.97,310.38 L158.46,310.12 L158.95,309.85 L159.43,309.59 L159.92,309.33 L160.41,309.07 L160.89,308.81 L161.38,308.55 L161.87,308.29 L162.35,308.03 L162.84,307.77 L163.33,307.51 L163.82,307.25 L164.30,306.98 L164.79,306.72 L165.28,306.46 L165.76,306.20 L166.25,305.94 L166.74,305.68 L167.22,305.42 L167.71,305.16 L168.20,304.90 L168.68,304.64 L169.17,304.38 L169.66,304.12 L170.14,303.86 L170.63,303.60 L171.12,303.33 L171.60,303.07 L172.09,302.81 L172.58,302.55 L173.06,302.29 L173.55,302.03 L174.04,301.77 L174.52,301.51 L175.01,301.25 L175.50,300.99 L175.98,300.73 L176.47,300.47 L176.96,300.21 L177.44,299.95 L177.93,299.69 L178.42,299.43 L178.90,299.17 L179.39,298.90 L179.88,298.64 L180.37,298.38 L180.85,298.12 L181.34,297.86 L181.83,297.60 L182.31,297.34 L182.80,297.08 L183.29,296.82 L183.77,296.56 L184.26,296.30 L184.75,296.04 L185.23,295.78 L185.72,295.52 L186.21,295.26 L186.69,295.00 L187.18,294.74 L187.67,294.48 L188.15,294.22 L188.64,293.96 L189.13,293.70 L189.61,293.44 L190.10,293.18 L190.59,292.92 L191.07,292.66 L191.56,292.39 L192.05,292.13 L192.53,291.87 L193.02,291.61 L193.51,291.35 L193.99,291.09 L194.48,290.83 L194.97,290.57 L195.45,290.31 L195.94,290.05 L196.43,289.79 L196.92,289.53 L197.40,289.27 L197.89,289.01 L198.38,288.75 L198.86,288.49 L199.35,288.23 L199.84,287.97 L200.32,287.71 L200.81,287.45 L201.30,287.19 L201.78,286.93 L202.27,286.67 L202.76,286.41 L203.24,286.15 L203.73,285.89 L204.22,285.63 L204.70,285.37 L205.19,285.11 L205.68,284.85 L206.16,284.59 L206.65,284.33 L207.14,284.07 L207.62,283.81 L208.11,283.55 L208.60,283.29 L209.08,283.03 L209.57,282.77 L210.06,282.51 L210.54,282.25 L211.03,281.99 L211.52,281.73 L212.00,281.47 L212.49,281.21 L212.98,280.95 L213.47,280.69 L213.95,280.43 L214.44,280.17 L214.93,279.91 L215.41,279.65 L215.90,279.39 L216.39,279.13 L216.87,278.87 L217.36,278.61 L217.85,278.35 L218.33,278.09 L218.82,277.83 L219.31,277.57 L219.79,277.31 L220.28,277.05 L220.77,276.79 L221.25,276.52 L221.74,276.26 L222.23,276.00 L222.71,275.74 L223.20,275.48 L223.69,275.22 L224.17,274.96 L224.66,274.70 L225.15,274.44 L225.63,274.18 L226.12,273.92 L226.61,273.66 L227.09,273.40 L227.58,273.14 L228.07,272.88 L228.55,272.62 L229.04,272.36 L229.53,272.10 L230.01,271.84 L230.50,271.58 L230.99,271.32 L231.48,271.06 L231.96,270.80 L232.45,270.54 L232.94,270.28 L233.42,270.02 L233.91,269.76 L234.40,269.50 L234.88,269.24 L235.37,268.98 L235.86,268.72 L236.34,268.46 L236.83,268.20 L237.32,267.94 L237.80,267.68 L238.29,267.42 L238.78,267.16 L239.26,266.90 L239.75,266.64 L240.24,266.38 L240.72,266.13 L241.21,265.87 L241.70,265.61 L242.18,265.35 L242.67,265.09 L243.16,264.83 L243.64,264.57 L244.13,264.31 L244.62,264.05 L245.10,263.79 L245.59,263.53 L246.08,263.27 L246.56,263.01 L247.05,262.75 L247.54,262.49 L248.03,262.23 L248.51,261.97 L249.00,261.71 L249.49,261.45 L249.97,261.19 L250.46,260.93 L250.95,260.67 L251.43,260.41 L251.92,260.15 L252.41,259.89 L252.89,259.63 L253.38,259.37 L253.87,259.11 L254.35,258.85 L254.84,258.59 L255.33,258.33 L255.81,258.07 L256.30,257.81 L256.79,257.55 L257.27,257.29 L257.76,257.03 L258.25,256.77 L258.73,256.51 L259.22,256.25 L259.71,255.99 L260.19,255.73 L260.68,255.47 L261.17,255.21 L261.65,254.95 L262.14,254.69 L262.63,254.43 L263.11,254.17 L263.60,253.91 L264.09,253.65 L264.58,253.39 L265.06,253.13 L265.55,252.87 L266.04,252.61 L266.52,252.35 L267.01,252.09 L267.50,251.83 L267.98,251.57 L268.47,251.31 L268.96,251.05 L269.44,250.79 L269.93,250.53 L270.42,250.27 L270.90,250.01 L271.39,249.75 L271.88,249.49 L272.36,249.23 L272.85,248.97 L273.34,248.71 L273.82,248.45 L274.31,248.19 L274.80,247.93 L275.28,247.67 L275.77,247.41 L276.26,247.15 L276.74,246.89 L277.23,246.63 L277.72,246.37 L278.20,246.11 L278.69,245.85 L279.18,245.59 L279.66,245.33 L280.15,245.07 L280.64,244.81 L281.12,244.55 L281.61,244.29 L282.10,244.06 L282.59,243.80 L283.07,243.54 L283.56,243.28 L284.05,243.02 L284.53,242.76 L285.02,242.50 L285.51,242.24 L285.99,241.98 L286.48,241.72 L286.97,241.46 L287.45,241.20 L287.94,240.94 L288.43,240.68 L288.91,240.42 L289.40,240.16 L289.89,239.91 L290.37,239.65 L290.86,239.39 L291.35,239.13 L291.83,238.87 L292.32,238.61 L292.81,238.35 L293.29,238.09 L293.78,237.83 L294.27,237.57 L294.75,237.31 L295.24,237.05 L295.73,236.79 L296.21,236.53 L296.70,236.27 L297.19,236.01 L297.67,235.75 L298.16,235.49 L298.65,235.23 L299.14,234.98 L299.62,234.72 L300.11,234.46 L300.60,234.20 L301.08,233.94 L301.57,233.68 L302.06,233.42 L302.54,233.16 L303.03,232.90 L303.52,232.64 L304.00,232.38 L304.49,232.12 L304.98,231.86 L305.46,231.60 L305.95,231.35 L306.44,231.09 L306.92,230.83 L307.41,230.57 L307.90,230.31 L308.38,230.05 L308.87,229.79 L309.36,229.53 L309.84,229.27 L310.33,229.01 L310.82,228.76 L311.30,228.50 L311.79,228.24 L312.28,227.98 L312.76,227.72 L313.25,227.46 L313.74,227.20 L314.22,226.94 L314.71,226.69 L315.20,226.43 L315.69,226.17 L316.17,225.91 L316.66,225.65 L317.15,225.40 L317.63,225.14 L318.12,224.88 L318.61,224.62 L319.09,224.36 L319.58,224.11 L320.07,223.85 L320.55,223.59 L321.04,223.34 L321.53,223.08 L322.01,222.82 L322.50,222.57 L322.99,222.31 L323.47,222.05 L323.96,221.80 L324.45,221.54 L324.93,221.29 L325.42,221.03 L325.91,220.78 L326.39,220.53 L326.88,220.27 L327.37,220.02 L327.85,219.77 L328.34,219.52 L328.83,219.27 L329.31,219.02 L329.80,218.78 L330.29,218.53 L330.77,218.29 L331.26,218.05 L331.75,217.82 L332.23,217.59 L332.72,217.36 L333.21,217.14 L333.70,216.93 L334.18,216.73 L334.67,216.55 L335.16,216.38 L335.64,216.22 L336.13,216.09 L336.62,215.97 L337.22,215.84 L337.83,215.74 L338.44,215.66 L339.05,215.59 L339.66,215.53 L340.27,215.48 L340.88,215.44 L341.48,215.40 L342.09,215.37 L342.70,215.34 L343.31,215.31 L343.92,215.28 L344.53,215.25 L345.13,215.23 L345.74,215.21 L346.35,215.18 L346.96,215.16 L347.57,215.14 L348.18,215.12 L348.78,215.10 L349.39,215.09 L350.00,215.07 L350.61,215.05 L351.22,215.03 L351.83,215.02 L352.44,215.00 L353.04,214.98 L353.65,214.97 L354.26,214.95 L354.87,214.94 L355.48,214.92 L356.09,214.91 L356.69,214.89 L357.30,214.88 L357.91,214.86 L358.52,214.85 L359.13,214.83 L359.74,214.82 L360.35,214.81 L360.95,214.79 L361.56,214.78 L362.17,214.77 L362.78,214.75 L363.39,214.74 L364.00,214.73 L364.60,214.72 L365.21,214.70 L365.82,214.69 L366.43,214.68 L367.04,214.67 L367.65,214.66 L368.26,214.64 L368.86,214.63 L369.47,214.62 L370.08,214.61 L370.69,214.60 L371.30,214.58 L371.91,214.57 L372.51,214.56 L373.12,214.55 L373.73,214.54 L374.34,214.53 L374.95,214.52 L375.56,214.51 L376.17,214.50 L376.77,214.49 L377.38,214.48 L377.99,214.47 L378.60,214.46 L379.21,214.45 L379.82,214.44 L380.42,214.42 L381.03,214.41 L381.64,214.41 L382.25,214.40 L382.86,214.39 L383.47,214.38 L384.08,214.37 L384.68,214.36 L385.29,214.35 L385.90,214.34 L386.51,214.33 L387.12,214.32 L387.73,214.31 L388.33,214.30 L388.94,214.29 L389.55,214.28 L390.16,214.27 L390.77,214.26 L391.38,214.26 L391.99,214.25 L392.59,214.24 L393.20,214.23 L393.81,214.22 L394.42,214.21 L395.03,214.20 L395.64,214.19 L396.24,214.19 L396.85,214.18 L397.46,214.17 L398.07,214.16 L398.68,214.15 L399.29,214.15 L399.89,214.14 L400.50,214.13 L401.11,214.12 L401.72,214.11 L402.33,214.11 L402.94,214.10 L403.55,214.09 L404.15,214.08 L404.76,214.07 L405.37,214.07 L405.98,214.06 L406.59,214.05 L407.20,214.04 L407.80,214.04 L408.41,214.03 L409.02,214.02 L409.63,214.02 L410.24,214.01 L410.85,214.00 L411.46,213.99 L412.06,213.99 L412.67,213.98 L413.28,213.97 L413.89,213.97 L414.50,213.96 L415.11,213.95 L415.71,213.94 L416.32,213.94 L416.93,213.93 L417.54,213.92 L418.15,213.92 L418.76,213.91 L419.37,213.90 L419.97,213.90 L420.58,213.89 L421.19,213.88 L421.80,213.88 L422.41,213.87 L423.02,213.87 L423.62,213.86 L424.23,213.85 L424.84,213.85 L425.45,213.84 L426.06,213.83 L426.67,213.83 L427.28,213.82 L427.88,213.82 L428.49,213.81 L429.10,213.80 L429.71,213.80 L430.32,213.79 L430.93,213.79 L431.53,213.78 L432.14,213.77 L432.75,213.77 L433.36,213.76 L433.97,213.76 L434.58,213.75 L435.19,213.75 L435.79,213.74 L436.40,213.73 L437.01,213.73 L437.62,213.72 L438.23,213.72 L438.84,213.71 L439.44,213.71 L440.05,213.70 L440.66,213.70 L441.27,213.69 L441.88,213.68 L442.49,213.68 L443.10,213.67 L443.70,213.67 L444.31,213.66 L444.92,213.66 L445.53,213.65 L446.14,213.65 L446.75,213.64 L447.35,213.64 L447.96,213.63 L448.57,213.63 L449.18,213.62 L449.79,213.62 L450.40,213.61 L451.00,213.61 L451.61,213.60 L452.22,213.60 L452.83,213.59 L453.44,213.59 L454.05,213.58 L454.66,213.58 L455.26,213.57 L455.87,213.57 L456.48,213.56 L457.09,213.56" stroke="#0000cd" stroke-opacity="0.69" stroke-width="2.1"/>
<circle cx="332.0" cy="218.0" r="1.0" fill="#0000cd" fill-opacity="0.6" stroke="none"/>
<circle cx="336.6" cy="213.4" r="1.0" fill="#0000cd" fill-opacity="0.6" stroke="none"/>
<circle cx="341.0" cy="211.6" r="1.0" fill="#0000cd" fill-opacity="0.6" stroke="none"/>
<circle cx="347.6" cy="208.6" r="1.0" fill="#0000cd" fill-opacity="0.6" stroke="none"/>
<circle cx="182.1" cy="218.1" r="1.0" fill="#0000cd" fill-opacity="0.6" stroke="none"/>
<circle cx="186.7" cy="213.5" r="1.0" fill="#0000cd" fill-opacity="0.6" stroke="none"/>
<circle cx="190.9" cy="208.9" r="1.0" fill="#0000cd" fill-opacity="0.6" stroke="none"/>
<circle cx="52.1" cy="367.7" r="1.0" fill="#0000cd" fill-opacity="0.6" stroke="none"/>
<path d="M38.66,202.42 L39.27,202.42 L39.88,202.42 L40.49,202.42 L41.14,202.42 L41.79,202.42 L42.43,202.42 L43.10,202.41 L43.77,202.41 L44.40,202.41 L45.10,202.41 L45.73,202.40 L46.42,202.40 L47.17,202.40 L47.78,202.39 L48.44,202.39 L49.14,202.38 L49.89,202.38 L50.69,202.37 L51.55,202.36 L52.16,202.36 L52.80,202.35 L53.46,202.34 L54.16,202.34 L54.88,202.33 L55.64,202.32 L56.44,202.31 L57.27,202.30 L58.14,202.29 L59.05,202.27 L60.00,202.26 L61.00,202.24 L62.04,202.23 L63.12,202.21 L64.25,202.19 L65.44,202.16 L66.05,202.15 L66.67,202.14 L67.31,202.13 L67.96,202.11 L68.62,202.10 L69.30,202.08 L69.99,202.07 L70.70,202.05 L71.42,202.03 L72.16,202.01 L72.91,201.99 L73.68,201.97 L74.47,201.95 L75.27,201.93 L76.08,201.91 L76.92,201.88 L77.76,201.86 L78.63,201.83 L79.51,201.80 L80.41,201.77 L81.33,201.74 L82.26,201.71 L83.22,201.68 L84.19,201.64 L85.18,201.61 L86.18,201.57 L87.21,201.53 L88.25,201.48 L89.31,201.44 L90.39,201.39 L91.49,201.35 L92.61,201.30 L93.74,201.24 L94.90,201.19 L96.07,201.13 L97.26,201.07 L98.48,201.00 L99.70,200.94 L100.95,200.87 L102.22,200.79 L103.50,200.72 L104.80,200.63 L106.12,200.55 L107.46,200.46 L108.82,200.37 L110.19,200.27 L111.58,200.17 L112.98,200.06 L114.40,199.95 L115.84,199.84 L117.29,199.71 L118.76,199.59 L120.24,199.45 L121.74,199.31 L123.25,199.17 L124.77,199.01 L126.30,198.85 L127.85,198.68 L129.41,198.51 L130.98,198.32 L132.56,198.13 L134.15,197.92 L135.74,197.71 L137.35,197.49 L138.97,197.26 L140.59,197.01 L142.22,196.76 L143.86,196.49 L145.50,196.21 L147.15,195.91 L148.80,195.61 L150.46,195.29 L152.12,194.95 L153.79,194.59 L155.46,194.23 L157.13,193.84 L158.81,193.43 L160.49,193.01 L162.18,192.56 L163.87,192.10 L165.56,191.61 L167.26,191.10 L168.96,190.56 L170.67,190.00 L172.38,189.42 L174.10,188.80 L175.82,188.16 L177.55,187.48 L179.29,186.78 L181.04,186.04 L182.81,185.27 L184.58,184.46 L186.37,183.61 L188.17,182.72 L189.99,181.79 L191.82,180.81 L193.68,179.79 L195.56,178.72 L197.47,177.60 L199.40,176.43 L201.36,175.20 L203.35,173.91 L205.38,172.57 L207.45,171.16 L209.56,169.68 L211.71,168.13 L213.91,166.51 L216.16,164.82 L218.46,163.04 L220.83,161.18 L223.25,159.23 L225.75,157.19 L228.31,155.05 L230.95,152.81 L233.68,150.47 L234.38,149.86 L235.08,149.25 L235.78,148.64 L236.48,148.02 L237.17,147.41 L237.86,146.80 L238.55,146.19 L239.24,145.58 L239.92,144.97 L240.61,144.35 L241.29,143.74 L241.97,143.13 L242.65,142.52 L243.32,141.91 L243.99,141.30 L244.67,140.69 L245.34,140.07 L246.00,139.46 L246.67,138.85 L247.34,138.24 L248.00,137.63 L248.66,137.02 L249.32,136.40 L249.98,135.79 L250.64,135.18 L251.30,134.57 L251.95,133.96 L252.61,133.35 L253.26,132.73 L253.91,132.12 L254.56,131.51 L255.21,130.90 L255.86,130.29 L256.51,129.68 L257.15,129.07 L257.80,128.45 L258.44,127.84 L259.08,127.23 L259.73,126.62 L260.37,126.01 L261.01,125.40 L261.65,124.78 L262.28,124.17 L262.92,123.56 L263.56,122.95 L264.19,122.34 L264.83,121.73 L265.46,121.11 L266.09,120.50 L266.73,119.89 L267.36,119.28 L267.99,118.67 L268.62,118.06 L269.25,117.45 L269.88,116.83 L270.50,116.22 L271.13,115.61 L271.76,115.00 L272.38,114.39 L273.01,113.78 L273.63,113.16 L274.26,112.55 L274.88,111.94 L275.50,111.33 L276.12,110.72 L276.75,110.11 L277.37,109.49 L277.99,108.88 L278.61,108.27 L279.23,107.66 L279.85,107.05 L280.46,106.44 L281.08,105.83 L281.70,105.21 L282.32,104.60 L282.93,103.99 L283.55,103.38 L284.16,102.77 L284.78,102.16 L285.39,101.54 L286.01,100.93 L286.62,100.32 L287.23,99.71 L287.85,99.10 L288.46,98.49 L289.07,97.87 L289.68,97.26 L290.29,96.65 L290.90,96.04 L291.51,95.43 L292.12,94.82 L292.73,94.21 L293.34,93.59 L293.95,92.98 L294.56,92.37 L295.17,91.76 L295.77,91.15 L296.38,90.54 L296.99,89.92 L297.60,89.31 L298.20,88.70 L298.81,88.09 L299.41,87.48 L300.02,86.87 L300.62,86.25 L301.23,85.64 L301.83,85.03 L302.44,84.42 L303.04,83.81 L303.65,83.20 L304.25,82.59 L304.85,81.97 L305.46,81.36 L306.06,80.75 L306.66,80.14 L307.26,79.53 L307.86,78.92 L308.47,78.30 L309.07,77.69 L309.67,77.08 L310.27,76.47 L310.87,75.86 L311.47,75.25 L312.07,74.63 L312.67,74.02 L313.27,73.41 L313.87,72.80 L314.47,72.19 L315.07,71.58 L315.67,70.97 L316.27,70.35 L316.86,69.74 L317.46,69.13 L318.06,68.52 L318.66,67.91 L319.26,67.30 L319.85,66.68 L320.45,66.07 L321.05,65.46 L321.64,64.85 L322.24,64.24 L322.84,63.63 L323.43,63.01 L324.03,62.40 L324.62,61.79 L325.22,61.18 L325.82,60.57 L326.41,59.96 L327.01,59.35 L327.60,58.73 L328.20,58.12 L328.79,57.51 L329.39,56.90 L329.98,56.29 L330.57,55.68 L331.17,55.06 L331.76,54.45 L332.36,53.84 L332.95,53.23 L333.54,52.62 L334.14,52.01 L334.73,51.39 L335.32,50.78 L335.91,50.17 L336.51,49.56 L337.10,48.95 L337.69,48.34 L338.28,47.73 L338.88,47.11 L339.47,46.50 L340.06,45.89 L340.65,45.28 L341.24,44.67 L341.84,44.06 L342.43,43.44 L343.02,42.83 L343.61,42.22 L344.20,41.61 L344.79,41.00 L345.38,40.39 L345.97,39.77 L346.56,39.16 L347.15,38.55 L347.74,37.94 L348.33,37.33 L348.92,36.72 L349.51,36.11 L350.10,35.49 L350.69,34.88 L351.28,34.27 L351.87,33.66 L352.46,33.05 L353.05,32.44 L353.64,31.82 L354.23,31.21 L354.82,30.60 L355.41,29.99 L356.00,29.38 L356.58,28.77 L357.17,28.15 L357.76,27.54 L358.35,26.93 L358.94,26.32 L359.53,25.71 L360.11,25.10 L360.70,24.49 L361.29,23.87 L361.88,23.26 L362.47,22.65 L363.05,22.04 L363.64,21.43 L364.23,20.82 L364.82,20.20 L365.40,19.59 L365.99,18.98 L366.58,18.37 L367.16,17.76 L367.75,17.15 L368.34,16.53 L368.92,15.92 L369.51,15.31 L370.10,14.70 L370.68,14.09 L371.27,13.48 L371.86,12.87 L372.44,12.25 L373.03,11.64 L373.62,11.03 L374.20,10.42 L374.79,9.81 L375.37,9.20 L375.96,8.58 L376.55,7.97 L377.13,7.36 L377.72,6.75 L378.30,6.14 L378.89,5.53 L379.47,4.91 L380.06,4.30 L380.64,3.69 L381.23,3.08 L381.81,2.47 L382.40,1.86 L382.98,1.25 L383.57,0.63 L384.15,0.02 L384.74,-0.59 L385.32,-1.20 L385.91,-1.81 L386.49,-2.42 L387.08,-3.04 L387.66,-3.65 L388.25,-4.26 L388.83,-4.87 L389.42,-5.48 L390.00,-6.09 L390.58,-6.71 L391.17,-7.32 L391.75,-7.93 L392.34,-8.54 L392.92,-9.15 L393.50,-9.76 L394.09,-10.37 L394.67,-10.99 L395.26,-11.60 L395.84,-12.21 L396.42,-12.82 L397.01,-13.43 L397.59,-14.04 L398.17,-14.66 L398.76,-15.27 L399.34,-15.88 L399.92,-16.49 L400.51,-17.10 L401.09,-17.71 L401.67,-18.33 L402.26,-18.94 L402.84,-19.55 L403.42,-20.16 L404.01,-20.77" stroke="#006400" stroke-opacity="0.72" stroke-width="2.1"/>
<path d="M38.65,322.05 L39.26,322.05 L39.87,322.04 L40.50,322.02 L41.08,322.00 L41.67,321.97 L42.30,321.94 L42.94,321.90 L43.57,321.85 L44.13,321.80 L44.76,321.74 L45.45,321.67 L46.03,321.60 L46.65,321.52 L47.33,321.43 L48.06,321.32 L48.58,321.23 L49.13,321.14 L49.71,321.03 L50.32,320.92 L50.97,320.79 L51.65,320.65 L52.37,320.49 L53.13,320.31 L53.93,320.11 L54.78,319.89 L55.67,319.64 L56.61,319.37 L57.10,319.22 L57.60,319.07 L58.12,318.90 L58.65,318.73 L59.20,318.54 L59.76,318.35 L60.33,318.14 L60.92,317.93 L61.53,317.70 L62.16,317.46 L62.80,317.20 L63.46,316.93 L64.14,316.65 L64.83,316.35 L65.55,316.04 L66.29,315.70 L67.05,315.35 L67.83,314.98 L68.63,314.59 L69.46,314.18 L70.31,313.74 L71.18,313.28 L72.08,312.79 L73.01,312.28 L73.97,311.74 L74.95,311.17 L75.97,310.57 L77.02,309.93 L78.10,309.26 L79.21,308.55 L80.37,307.80 L81.56,307.01 L82.79,306.18 L84.06,305.30 L85.37,304.38 L86.73,303.40 L88.14,302.36 L89.60,301.27 L91.11,300.12 L92.68,298.91 L94.30,297.63 L95.99,296.27 L97.75,294.84 L99.57,293.34 L101.46,291.75 L103.44,290.07 L105.49,288.30 L107.63,286.43 L109.86,284.46 L112.19,282.37 L114.62,280.18 L117.15,277.86 L119.80,275.41 L122.57,272.83 L125.46,270.10 L126.10,269.49 L126.74,268.89 L127.38,268.28 L128.02,267.67 L128.66,267.06 L129.29,266.46 L129.93,265.85 L130.56,265.24 L131.19,264.64 L131.83,264.03 L132.46,263.42 L133.09,262.81 L133.72,262.21 L134.34,261.60 L134.97,260.99 L135.60,260.39 L136.22,259.78 L136.85,259.17 L137.47,258.57 L138.10,257.96 L138.72,257.35 L139.34,256.74 L139.96,256.14 L140.58,255.53 L141.20,254.92 L141.82,254.32 L142.44,253.71 L143.06,253.10 L143.68,252.49 L144.29,251.89 L144.91,251.28 L145.52,250.67 L146.14,250.07 L146.75,249.46 L147.37,248.85 L147.98,248.24 L148.59,247.64 L149.20,247.03 L149.82,246.42 L150.43,245.82 L151.04,245.21 L151.65,244.60 L152.26,243.99 L152.87,243.39 L153.48,242.78 L154.08,242.17 L154.69,241.57 L155.30,240.96 L155.91,240.35 L156.51,239.75 L157.12,239.14 L157.72,238.53 L158.33,237.92 L158.93,237.32 L159.54,236.71 L160.14,236.10 L160.75,235.50 L161.35,234.89 L161.95,234.28 L162.56,233.67 L163.16,233.07 L163.76,232.46 L164.36,231.85 L164.96,231.25 L165.56,230.64 L166.17,230.03 L166.77,229.42 L167.37,228.82 L167.97,228.21 L168.56,227.60 L169.16,227.00 L169.76,226.39 L170.36,225.78 L170.96,225.17 L171.56,224.57 L172.16,223.96 L172.75,223.35 L173.35,222.75 L173.95,222.14 L174.54,221.53 L175.14,220.93 L175.74,220.32 L176.33,219.71 L176.93,219.10 L177.52,218.50 L178.12,217.89 L178.71,217.28 L179.31,216.68 L179.90,216.07 L180.50,215.46 L181.09,214.85 L181.68,214.25 L182.28,213.64 L182.87,213.03 L183.47,212.43 L184.06,211.82 L184.65,211.21 L185.24,210.60 L185.84,210.00 L186.43,209.39 L187.02,208.78 L187.61,208.18 L188.20,207.57 L188.79,206.96 L189.39,206.36 L189.98,205.75 L190.57,205.14 L191.16,204.53 L191.75,203.93 L192.34,203.32 L192.93,202.71 L193.52,202.11 L194.11,201.50 L194.70,200.89 L195.29,200.28 L195.88,199.68 L196.47,199.07 L197.06,198.46 L197.65,197.86 L198.23,197.25 L198.82,196.64 L199.41,196.03 L200.00,195.43 L200.59,194.82 L201.18,194.21 L201.76,193.61 L202.35,193.00 L202.94,192.39 L203.53,191.78 L204.11,191.18 L204.70,190.57 L205.29,189.96 L205.87,189.36 L206.46,188.75 L207.05,188.14 L207.63,187.54 L208.22,186.93 L208.81,186.32 L209.39,185.71 L209.98,185.11 L210.57,184.50 L211.15,183.89 L211.74,183.29 L212.32,182.68 L212.91,182.07 L213.49,181.46 L214.08,180.86 L214.66,180.25 L215.25,179.64 L215.83,179.04 L216.42,178.43 L217.00,177.82 L217.59,177.21 L218.17,176.61 L218.76,176.00 L219.34,175.39 L219.92,174.79 L220.51,174.18 L221.09,173.57 L221.68,172.96 L222.26,172.36 L222.84,171.75 L223.43,171.14 L224.01,170.54 L224.59,169.93 L225.18,169.32 L225.76,168.72 L226.34,168.11 L226.93,167.50 L227.51,166.89 L228.09,166.29 L228.68,165.68 L229.26,165.07 L229.84,164.47 L230.42,163.86 L231.01,163.25 L231.59,162.64 L232.17,162.04 L232.75,161.43 L233.34,160.82 L233.92,160.22 L234.50,159.61 L235.08,159.00 L235.66,158.39 L236.24,157.79 L236.83,157.18 L237.41,156.57 L237.99,155.97 L238.57,155.36 L239.15,154.75 L239.73,154.14 L240.31,153.54 L240.90,152.93 L241.48,152.32 L242.06,151.72 L242.64,151.11 L243.22,150.50 L243.80,149.90 L244.38,149.29 L244.96,148.68 L245.54,148.07 L246.12,147.47 L246.70,146.86 L247.28,146.25 L247.86,145.65 L248.44,145.04 L249.02,144.43 L249.60,143.82 L250.18,143.22 L250.76,142.61 L251.34,142.00 L251.92,141.40 L252.50,140.79 L253.08,140.18 L253.66,139.57 L254.24,138.97 L254.82,138.36 L255.40,137.75 L255.98,137.15 L256.56,136.54 L257.14,135.93 L257.72,135.32 L258.30,134.72 L258.88,134.11 L259.46,133.50 L260.04,132.90 L260.62,132.29 L261.19,131.68 L261.77,131.08 L262.35,130.47 L262.93,129.86 L263.51,129.25 L264.09,128.65 L264.67,128.04 L265.25,127.43 L265.82,126.83 L266.40,126.22 L266.98,125.61 L267.56,125.00 L268.14,124.40 L268.72,123.79 L269.29,123.18 L269.87,122.58 L270.45,121.97 L271.03,121.36 L271.61,120.75 L272.19,120.15 L272.76,119.54 L273.34,118.93 L273.92,118.33 L274.50,117.72 L275.07,117.11 L275.65,116.50 L276.23,115.90 L276.81,115.29 L277.39,114.68 L277.96,114.08 L278.54,113.47 L279.12,112.86 L279.70,112.26 L280.27,111.65 L280.85,111.04 L281.43,110.43 L282.01,109.83 L282.58,109.22 L283.16,108.61 L283.74,108.01 L284.31,107.40 L284.89,106.79 L285.47,106.18 L286.05,105.58 L286.62,104.97 L287.20,104.36 L287.78,103.76 L288.35,103.15 L288.93,102.54 L289.51,101.93 L290.08,101.33 L290.66,100.72 L291.24,100.11 L291.81,99.51 L292.39,98.90 L292.97,98.29 L293.54,97.68 L294.12,97.08 L294.70,96.47 L295.27,95.86 L295.85,95.26 L296.43,94.65 L297.00,94.04 L297.58,93.44 L298.16,92.83 L298.73,92.22 L299.31,91.61 L299.88,91.01 L300.46,90.40 L301.04,89.79 L301.61,89.19 L302.19,88.58 L302.76,87.97 L303.34,87.36 L303.92,86.76 L304.49,86.15 L305.07,85.54 L305.64,84.94 L306.22,84.33 L306.80,83.72 L307.37,83.11 L307.95,82.51 L308.52,81.90 L309.10,81.29 L309.68,80.69 L310.25,80.08 L310.83,79.47 L311.40,78.87 L311.98,78.26 L312.55,77.65 L313.13,77.04 L313.70,76.44 L314.28,75.83 L314.86,75.22 L315.43,74.62 L316.01,74.01 L316.58,73.40 L317.16,72.79 L317.73,72.19 L318.31,71.58 L318.88,70.97 L319.46,70.37 L320.03,69.76 L320.61,69.15 L321.18,68.54 L321.76,67.94 L322.33,67.33 L322.91,66.72 L323.48,66.12 L324.06,65.51 L324.63,64.90 L325.21,64.29 L325.78,63.69 L326.36,63.08 L326.93,62.47 L327.51,61.87 L328.08,61.26 L328.66,60.65 L329.23,60.05 L329.81,59.44 L330.38,58.83 L330.96,58.22 L331.53,57.62 L332.11,57.01 L332.68,56.40 L333.26,55.80 L333.83,55.19 L334.41,54.58 L334.98,53.97 L335.55,53.37 L336.13,52.76 L336.70,52.15 L337.28,51.55 L337.85,50.94 L338.43,50.33 L339.00,49.72 L339.58,49.12 L340.15,48.51 L340.72,47.90 L341.30,47.30 L341.87,46.69 L342.45,46.08 L343.02,45.47 L343.60,44.87 L344.17,44.26 L344.74,43.65 L345.32,43.05 L345.89,42.44 L346.47,41.83 L347.04,41.23 L347.62,40.62 L348.19,40.01 L348.76,39.40 L349.34,38.80 L349.91,38.19 L350.49,37.58 L351.06,36.98 L351.63,36.37 L352.21,35.76 L352.78,35.15 L353.36,34.55 L353.93,33.94 L354.50,33.33 L355.08,32.73 L355.65,32.12 L356.23,31.51 L356.80,30.90 L357.37,30.30 L357.95,29.69 L358.52,29.08 L359.09,28.48 L359.67,27.87 L360.24,27.26 L360.82,26.65 L361.39,26.05 L361.96,25.44 L362.54,24.83 L363.11,24.23 L363.68,23.62 L364.26,23.01 L364.83,22.41 L365.40,21.80 L365.98,21.19 L366.55,20.58 L367.13,19.98 L367.70,19.37 L368.27,18.76 L368.85,18.16 L369.42,17.55 L369.99,16.94 L370.57,16.33 L371.14,15.73 L371.71,15.12 L372.29,14.51 L372.86,13.91 L373.43,13.30 L374.01,12.69 L374.58,12.08 L375.15,11.48 L375.73,10.87 L376.30,10.26 L376.87,9.66 L377.45,9.05 L378.02,8.44 L378.59,7.83 L379.17,7.23 L379.74,6.62 L380.31,6.01 L380.89,5.41 L381.46,4.80 L382.03,4.19 L382.60,3.59 L383.18,2.98 L383.75,2.37 L384.32,1.76 L384.90,1.16 L385.47,0.55 L386.04,-0.06 L386.62,-0.66 L387.19,-1.27 L387.76,-1.88 L388.34,-2.49 L388.91,-3.09 L389.48,-3.70 L390.05,-4.31 L390.63,-4.91 L391.20,-5.52 L391.77,-6.13 L392.35,-6.74 L392.92,-7.34 L393.49,-7.95 L394.06,-8.56 L394.64,-9.16 L395.21,-9.77 L395.78,-10.38 L396.36,-10.99 L396.93,-11.59 L397.50,-12.20 L398.07,-12.81 L398.65,-13.41 L399.22,-14.02 L399.79,-14.63 L400.37,-15.23 L400.94,-15.84 L401.51,-16.45 L402.08,-17.06 L402.66,-17.66 L403.23,-18.27 L403.80,-18.88 L404.37,-19.48 L404.95,-20.09 L405.52,-20.70" stroke="#006400" stroke-opacity="0.72" stroke-width="2.1"/>
<path d="M38.63,358.27 L40.33,358.15 L41.05,358.03 L41.61,357.91 L42.50,357.67 L43.24,357.42 L43.89,357.18 L44.48,356.94 L45.03,356.70 L45.55,356.45 L46.04,356.21 L46.51,355.97 L46.96,355.73 L47.39,355.48 L47.82,355.24 L48.23,355.00 L48.63,354.76 L49.03,354.52 L49.41,354.27 L49.79,354.03 L50.16,353.79 L50.53,353.55 L50.89,353.30 L51.42,352.94 L51.95,352.58 L52.46,352.21 L52.97,351.85 L53.47,351.49 L53.96,351.12 L54.45,350.76 L54.94,350.40 L55.41,350.03 L55.89,349.67 L56.36,349.31 L56.82,348.94 L57.28,348.58 L57.74,348.22 L58.20,347.85 L58.65,347.49 L59.10,347.13 L59.55,346.76 L59.99,346.40 L60.43,346.04 L60.87,345.67 L61.31,345.31 L61.75,344.95 L62.18,344.58 L62.61,344.22 L63.04,343.86 L63.47,343.49 L63.90,343.13 L64.33,342.76 L64.75,342.40 L65.17,342.04 L65.59,341.67 L66.02,341.31 L66.43,340.95 L66.85,340.58 L67.27,340.22 L67.69,339.86 L68.10,339.49 L68.51,339.13 L68.93,338.77 L69.34,338.40 L69.75,338.04 L70.16,337.68 L70.57,337.31 L70.98,336.95 L71.39,336.59 L71.79,336.22 L72.20,335.86 L72.60,335.50 L73.01,335.13 L73.41,334.77 L73.82,334.41 L74.22,334.04 L74.62,333.68 L75.02,333.32 L75.43,332.95 L75.83,332.59 L76.23,332.23 L76.63,331.86 L77.03,331.50 L77.43,331.14 L77.82,330.77 L78.22,330.41 L78.62,330.05 L79.02,329.68 L79.41,329.32 L79.81,328.96 L80.21,328.59 L80.60,328.23 L81.00,327.86 L81.39,327.50 L81.79,327.14 L82.18,326.77 L82.57,326.41 L82.97,326.05 L83.36,325.68 L83.75,325.32 L84.15,324.96 L84.54,324.59 L84.93,324.23 L85.32,323.87 L85.71,323.50 L86.11,323.14 L86.50,322.78 L86.89,322.41 L87.28,322.05 L87.67,321.69 L88.05,321.33 L88.44,320.97 L88.82,320.62 L89.21,320.26 L89.59,319.90 L89.97,319.54 L90.36,319.18 L90.74,318.82 L91.13,318.47 L91.51,318.11 L91.89,317.75 L92.28,317.39 L92.66,317.03 L93.04,316.67 L93.43,316.31 L93.81,315.96 L94.19,315.60 L94.58,315.24 L94.96,314.88 L95.34,314.52 L95.73,314.16 L96.11,313.81 L96.49,313.45 L96.87,313.09 L97.26,312.73 L97.64,312.37 L98.02,312.01 L98.41,311.65 L98.79,311.30 L99.17,310.94 L99.55,310.58 L99.94,310.22 L100.32,309.86 L100.70,309.50 L101.08,309.15 L101.47,308.79 L101.85,308.43 L102.23,308.07 L102.61,307.71 L103.00,307.35 L103.38,306.99 L103.76,306.64 L104.14,306.28 L104.53,305.92 L104.91,305.56 L105.29,305.20 L105.67,304.84 L106.06,304.49 L106.44,304.13 L106.82,303.77 L107.21,303.41 L107.59,303.05 L107.97,302.69 L108.36,302.33 L108.74,301.98 L109.12,301.62 L109.51,301.26 L109.89,300.90 L110.27,300.54 L110.66,300.18 L111.04,299.83 L111.43,299.47 L111.81,299.11 L112.20,298.75 L112.58,298.39 L112.97,298.03 L113.35,297.67 L113.74,297.32 L114.12,296.96 L114.51,296.60 L114.89,296.24 L115.28,295.88 L115.66,295.52 L116.05,295.17 L116.44,294.81 L116.82,294.45 L117.21,294.09 L117.60,293.73 L117.98,293.37 L118.37,293.01 L118.76,292.66 L119.15,292.30 L119.53,291.94 L119.92,291.58 L120.31,291.22 L120.70,290.86 L121.09,290.51 L121.48,290.15 L121.87,289.79 L122.26,289.43 L122.65,289.07 L123.04,288.71 L123.43,288.35 L123.82,288.00 L124.21,287.64 L124.60,287.28 L124.99,286.92 L125.38,286.56 L125.78,286.20 L126.17,285.85 L126.56,285.49 L126.95,285.13 L127.35,284.77 L127.74,284.41 L128.14,284.05 L128.53,283.69 L128.93,283.34 L129.32,282.98 L129.72,282.62 L130.11,282.26 L130.51,281.90 L130.91,281.54 L131.30,281.19 L131.70,280.83 L132.10,280.47 L132.50,280.11 L132.90,279.75 L133.30,279.39 L133.70,279.03 L134.10,278.68 L134.50,278.32 L134.90,277.96 L135.30,277.60 L135.71,277.24 L136.11,276.88 L136.51,276.53 L136.92,276.17 L137.32,275.81 L137.73,275.45 L138.13,275.09 L138.54,274.73 L138.95,274.37 L139.36,274.02 L139.76,273.66 L140.17,273.30 L140.58,272.94 L140.99,272.58 L141.40,272.22 L141.82,271.87 L142.23,271.51 L142.64,271.15 L143.06,270.79 L143.47,270.43 L143.89,270.07 L144.30,269.71 L144.72,269.36 L145.14,269.00 L145.55,268.64 L145.97,268.28 L146.39,267.92 L146.82,267.56 L147.24,267.21 L147.66,266.85 L148.08,266.49 L148.51,266.13 L148.93,265.77 L149.36,265.41 L149.79,265.05 L150.22,264.70 L150.65,264.34 L151.08,263.98 L151.51,263.62 L151.94,263.26 L152.38,262.90 L152.81,262.55 L153.25,262.19 L153.69,261.83 L154.13,261.47 L154.57,261.11 L155.01,260.75 L155.45,260.39 L155.90,260.04 L156.34,259.68 L156.79,259.32 L157.24,258.96 L157.69,258.60 L158.14,258.24 L158.59,257.89 L159.05,257.53 L159.50,257.17 L159.96,256.81 L160.42,256.45 L160.88,256.09 L161.34,255.73 L161.81,255.38 L162.28,255.02 L162.74,254.66 L163.22,254.30 L163.69,253.94 L164.16,253.58 L164.64,253.23 L165.12,252.87 L165.60,252.51 L166.08,252.15 L166.57,251.79 L167.06,251.43 L167.55,251.07 L168.04,250.72 L168.54,250.36 L169.04,250.00 L169.54,249.64 L170.04,249.28 L170.55,248.92 L171.06,248.57 L171.57,248.21 L172.09,247.85 L172.61,247.49 L173.13,247.13 L173.66,246.77 L174.19,246.41 L174.72,246.06 L175.26,245.70 L175.80,245.34 L176.34,244.98 L176.89,244.62 L177.45,244.26 L178.01,243.91 L178.57,243.55 L179.13,243.19 L179.71,242.83 L180.28,242.47 L180.87,242.11 L181.45,241.75 L182.05,241.40 L182.64,241.04 L183.25,240.68 L183.86,240.32 L184.48,239.96 L185.10,239.60 L185.73,239.25 L186.37,238.89 L187.01,238.53 L187.66,238.17 L188.32,237.81 L188.99,237.45 L189.67,237.09 L190.36,236.74 L191.05,236.38 L191.75,236.02 L192.47,235.66 L193.19,235.30 L193.93,234.94 L194.68,234.59 L195.44,234.23 L196.21,233.87 L196.99,233.51 L197.79,233.15 L198.60,232.79 L199.43,232.43 L200.27,232.08 L201.13,231.72 L202.01,231.36 L202.90,231.00 L203.82,230.64 L204.75,230.28 L205.71,229.93 L206.69,229.57 L207.69,229.21 L208.71,228.85 L209.77,228.49 L210.85,228.13 L211.96,227.77 L213.10,227.42 L214.27,227.06 L215.49,226.70 L216.74,226.34 L218.03,225.98 L219.36,225.62 L220.74,225.27 L222.17,224.91 L223.66,224.55 L225.20,224.19 L226.81,223.83 L228.48,223.47 L230.23,223.11 L232.06,222.76 L233.97,222.40 L235.98,222.04 L238.10,221.68 L240.33,221.32 L242.68,220.96 L245.18,220.61 L247.83,220.25 L250.65,219.89 L253.67,219.53 L256.91,219.17 L260.39,218.81 L264.16,218.45 L268.24,218.10 L272.70,217.74 L277.59,217.38 L282.98,217.02 L288.97,216.66 L295.67,216.30 L303.25,215.95 L311.88,215.59 L321.86,215.23 L333.54,214.87 L337.43,214.76 L341.39,214.66 L345.43,214.56 L349.55,214.46 L353.75,214.37 L358.03,214.28 L362.40,214.19 L366.85,214.11 L371.38,214.03 L376.01,213.95 L380.72,213.87 L385.53,213.80 L390.43,213.72 L395.42,213.66 L400.50,213.59 L405.69,213.52 L410.97,213.46 L416.36,213.40 L421.84,213.34 L427.43,213.29 L433.13,213.23 L438.93,213.18 L444.84,213.13 L450.86,213.08 L457.00,213.03" stroke="#006400" stroke-opacity="0.72" stroke-width="2.1"/>
<path d="M38.75,374.00 L40.48,373.89 L41.27,373.77 L41.87,373.66 L42.40,373.55 L43.29,373.32 L44.06,373.10 L44.76,372.87 L45.41,372.65 L46.02,372.42 L46.60,372.20 L47.16,371.97 L47.70,371.74 L48.23,371.52 L48.75,371.29 L49.26,371.07 L49.76,370.84 L50.25,370.62 L50.74,370.39 L51.23,370.17 L51.71,369.94 L52.19,369.71 L52.66,369.49 L53.13,369.26 L53.61,369.04 L54.08,368.81 L54.55,368.59 L55.02,368.36 L55.49,368.14 L55.96,367.91 L56.44,367.69 L56.91,367.46 L57.39,367.23 L57.87,367.01 L58.35,366.78 L58.83,366.56 L59.32,366.33 L59.81,366.11 L60.30,365.88 L60.80,365.66 L61.30,365.43 L61.80,365.20 L62.31,364.98 L62.82,364.75 L63.34,364.53 L63.87,364.30 L64.40,364.08 L64.93,363.85 L65.47,363.63 L66.02,363.40 L66.57,363.18 L67.14,362.95 L67.71,362.72 L68.28,362.50 L68.87,362.27 L69.46,362.05 L70.07,361.82 L70.68,361.60 L71.31,361.37 L71.94,361.15 L72.59,360.92 L73.24,360.70 L73.91,360.47 L74.60,360.24 L75.30,360.02 L76.01,359.79 L76.74,359.57 L77.48,359.34 L78.25,359.12 L79.03,358.89 L79.83,358.67 L80.65,358.44 L81.50,358.21 L82.36,357.99 L83.26,357.76 L84.18,357.54 L85.13,357.31 L86.11,357.09 L86.61,356.97 L87.12,356.86 L87.64,356.75 L88.17,356.64 L88.71,356.52 L89.26,356.41 L89.82,356.30 L90.39,356.19 L90.98,356.07 L91.57,355.96 L92.18,355.85 L92.80,355.73 L93.43,355.62 L94.07,355.51 L94.73,355.40 L95.41,355.28 L96.10,355.17 L96.81,355.06 L97.54,354.94 L98.28,354.83 L99.04,354.72 L99.83,354.61 L100.63,354.49 L101.46,354.38 L102.31,354.27 L103.19,354.16 L104.09,354.04 L105.02,353.93 L105.98,353.82 L106.97,353.70 L107.99,353.59 L109.05,353.48 L110.15,353.37 L111.29,353.25 L112.47,353.14 L113.70,353.03 L114.97,352.92 L116.30,352.80 L117.69,352.69 L119.13,352.58 L120.65,352.46 L122.24,352.35 L123.90,352.24 L125.65,352.13 L127.50,352.01 L129.45,351.90 L131.51,351.79 L133.70,351.68 L136.03,351.56 L137.79,351.48 L139.57,351.40 L141.38,351.33 L143.22,351.26 L145.08,351.19 L146.97,351.12 L148.89,351.05 L150.84,350.99 L152.82,350.93 L154.82,350.87 L156.86,350.81 L158.93,350.75 L161.03,350.70 L163.17,350.64 L165.33,350.59 L167.53,350.54 L169.77,350.50 L172.04,350.45 L174.34,350.41 L176.68,350.36 L179.06,350.32 L181.47,350.28 L183.92,350.24 L186.41,350.20 L188.94,350.17 L191.51,350.13 L194.13,350.10 L196.78,350.06 L199.47,350.03 L202.21,350.00 L204.99,349.97 L207.82,349.94 L210.69,349.91 L213.61,349.89 L216.57,349.86 L219.59,349.84 L222.65,349.81 L225.76,349.79 L228.91,349.76 L232.13,349.74 L235.39,349.72 L238.70,349.70 L242.07,349.68 L245.50,349.66 L248.97,349.64 L252.51,349.62 L256.10,349.60 L259.75,349.59 L263.46,349.57 L267.24,349.55 L271.07,349.54 L274.96,349.52 L278.92,349.51 L282.94,349.49 L287.03,349.48 L291.18,349.47 L295.41,349.45 L299.70,349.44 L304.06,349.43 L308.49,349.42 L313.00,349.41 L317.58,349.40 L322.23,349.39 L326.96,349.38 L331.77,349.37 L336.65,349.36 L341.62,349.35 L346.67,349.34 L351.80,349.33 L357.01,349.32 L362.31,349.31 L367.70,349.30 L373.17,349.30 L378.74,349.29 L384.40,349.28 L390.15,349.28 L395.99,349.27 L401.93,349.26 L407.97,349.26 L414.10,349.25 L420.34,349.24 L426.68,349.24 L433.13,349.23 L439.68,349.23 L446.33,349.22 L453.10,349.22" stroke="#006400" stroke-opacity="0.72" stroke-width="2.1"/>
<circle cx="177.6" cy="218.0" r="1.0" fill="#006400" fill-opacity="0.6" stroke="none"/>
<circle cx="184.1" cy="211.7" r="1.0" fill="#006400" fill-opacity="0.6" stroke="none"/>
<circle cx="56.5" cy="348.8" r="1.0" fill="#006400" fill-opacity="0.6" stroke="none"/>
</g>
<path d="M62.95,389.4 v-3.9 M62.95,0.4 v3.9" stroke="#000" stroke-width="0.9"/>
<path d="M87.28,389.4 v-3.9 M87.28,0.4 v3.9" stroke="#000" stroke-width="0.9"/>
<path d="M111.61,389.4 v-3.9 M111.61,0.4 v3.9" stroke="#000" stroke-width="0.9"/>
<path d="M135.94,389.4 v-6.0 M135.94,0.4 v6.0" stroke="#000" stroke-width="1.1"/>
<path d="M160.27,389.4 v-3.9 M160.27,0.4 v3.9" stroke="#000" stroke-width="0.9"/>
<path d="M184.60,389.4 v-3.9 M184.60,0.4 v3.9" stroke="#000" stroke-width="0.9"/>
<path d="M208.93,389.4 v-3.9 M208.93,0.4 v3.9" stroke="#000" stroke-width="0.9"/>
<path d="M233.26,389.4 v-6.0 M233.26,0.4 v6.0" stroke="#000" stroke-width="1.1"/>
<path d="M257.59,389.4 v-3.9 M257.59,0.4 v3.9" stroke="#000" stroke-width="0.9"/>
<path d="M281.92,389.4 v-3.9 M281.92,0.4 v3.9" stroke="#000" stroke-width="0.9"/>
<path d="M306.25,389.4 v-3.9 M306.25,0.4 v3.9" stroke="#000" stroke-width="0.9"/>
<path d="M330.58,389.4 v-6.0 M330.58,0.4 v6.0" stroke="#000" stroke-width="1.1"/>
<path d="M354.91,389.4 v-3.9 M354.91,0.4 v3.9" stroke="#000" stroke-width="0.9"/>
<path d="M379.24,389.4 v-3.9 M379.24,0.4 v3.9" stroke="#000" stroke-width="0.9"/>
<path d="M403.57,389.4 v-3.9 M403.57,0.4 v3.9" stroke="#000" stroke-width="0.9"/>
<path d="M38.58,384.39 h3.9 M428.0,384.39 h-3.9" stroke="#000" stroke-width="0.9"/>
<path d="M38.58,374.00 h6.0 M428.0,374.00 h-6.0" stroke="#000" stroke-width="1.1"/>
<path d="M38.58,363.61 h3.9 M428.0,363.61 h-3.9" stroke="#000" stroke-width="0.9"/>
<path d="M38.58,353.22 h3.9 M428.0,353.22 h-3.9" stroke="#000" stroke-width="0.9"/>
<path d="M38.58,342.83 h3.9 M428.0,342.83 h-3.9" stroke="#000" stroke-width="0.9"/>
<path d="M38.58,332.44 h3.9 M428.0,332.44 h-3.9" stroke="#000" stroke-width="0.9"/>
<path d="M38.58,322.05 h6.0 M428.0,322.05 h-6.0" stroke="#000" stroke-width="1.1"/>
<path d="M38.58,311.66 h3.9 M428.0,311.66 h-3.9" stroke="#000" stroke-width="0.9"/>
<path d="M38.58,301.27 h3.9 M428.0,301.27 h-3.9" stroke="#000" stroke-width="0.9"/>
<path d="M38.58,290.88 h3.9 M428.0,290.88 h-3.9" stroke="#000" stroke-width="0.9"/>
<path d="M38.58,280.49 h3.9 M428.0,280.49 h-3.9" stroke="#000" stroke-width="0.9"/>
<path d="M38.58,270.10 h6.0 M428.0,270.10 h-6.0" stroke="#000" stroke-width="1.1"/>
<path d="M38.58,259.71 h3.9 M428.0,259.71 h-3.9" stroke="#000" stroke-width="0.9"/>
<path d="M38.58,249.32 h3.9 M428.0,249.32 h-3.9" stroke="#000" stroke-width="0.9"/>
<path d="M38.58,238.93 h3.9 M428.0,238.93 h-3.9" stroke="#000" stroke-width="0.9"/>
<path d="M38.58,228.54 h3.9 M428.0,228.54 h-3.9" stroke="#000" stroke-width="0.9"/>
<path d="M38.58,218.15 h6.0 M428.0,218.15 h-6.0" stroke="#000" stroke-width="1.1"/>
<path d="M38.58,207.76 h3.9 M428.0,207.76 h-3.9" stroke="#000" stroke-width="0.9"/>
<path d="M38.58,197.37 h3.9 M428.0,197.37 h-3.9" stroke="#000" stroke-width="0.9"/>
<path d="M38.58,186.98 h3.9 M428.0,186.98 h-3.9" stroke="#000" stroke-width="0.9"/>
<path d="M38.58,176.59 h3.9 M428.0,176.59 h-3.9" stroke="#000" stroke-width="0.9"/>
<path d="M38.58,166.20 h6.0 M428.0,166.20 h-6.0" stroke="#000" stroke-width="1.1"/>
<path d="M38.58,155.81 h3.9 M428.0,155.81 h-3.9" stroke="#000" stroke-width="0.9"/>
<path d="M38.58,145.42 h3.9 M428.0,145.42 h-3.9" stroke="#000" stroke-width="0.9"/>
<path d="M38.58,135.03 h3.9 M428.0,135.03 h-3.9" stroke="#000" stroke-width="0.9"/>
<path d="M38.58,124.64 h3.9 M428.0,124.64 h-3.9" stroke="#000" stroke-width="0.9"/>
<path d="M38.58,114.25 h6.0 M428.0,114.25 h-6.0" stroke="#000" stroke-width="1.1"/>
<path d="M38.58,103.86 h3.9 M428.0,103.86 h-3.9" stroke="#000" stroke-width="0.9"/>
<path d="M38.58,93.47 h3.9 M428.0,93.47 h-3.9" stroke="#000" stroke-width="0.9"/>
<path d="M38.58,83.08 h3.9 M428.0,83.08 h-3.9" stroke="#000" stroke-width="0.9"/>
<path d="M38.58,72.69 h3.9 M428.0,72.69 h-3.9" stroke="#000" stroke-width="0.9"/>
<path d="M38.58,62.30 h6.0 M428.0,62.30 h-6.0" stroke="#000" stroke-width="1.1"/>
<path d="M38.58,51.91 h3.9 M428.0,51.91 h-3.9" stroke="#000" stroke-width="0.9"/>
<path d="M38.58,41.52 h3.9 M428.0,41.52 h-3.9" stroke="#000" stroke-width="0.9"/>
<path d="M38.58,31.13 h3.9 M428.0,31.13 h-3.9" stroke="#000" stroke-width="0.9"/>
<path d="M38.58,20.74 h3.9 M428.0,20.74 h-3.9" stroke="#000" stroke-width="0.9"/>
<path d="M38.58,10.35 h6.0 M428.0,10.35 h-6.0" stroke="#000" stroke-width="1.1"/>
<rect x="38.58" y="0.4" width="389.42" height="389.0" fill="none" stroke="#000" stroke-width="1.05"/>
<text transform="translate(34.5,379.05) scale(1.13,1.03)" text-anchor="end" font-family="Liberation Sans, sans-serif" font-size="14.0" fill="#000">0</text>
<text transform="translate(34.5,327.10) scale(1.13,1.03)" text-anchor="end" font-family="Liberation Sans, sans-serif" font-size="14.0" fill="#000">1</text>
<text transform="translate(34.5,275.15) scale(1.13,1.03)" text-anchor="end" font-family="Liberation Sans, sans-serif" font-size="14.0" fill="#000">2</text>
<text transform="translate(34.5,223.20) scale(1.13,1.03)" text-anchor="end" font-family="Liberation Sans, sans-serif" font-size="14.0" fill="#000">3</text>
<text transform="translate(34.5,171.25) scale(1.13,1.03)" text-anchor="end" font-family="Liberation Sans, sans-serif" font-size="14.0" fill="#000">4</text>
<text transform="translate(34.5,119.30) scale(1.13,1.03)" text-anchor="end" font-family="Liberation Sans, sans-serif" font-size="14.0" fill="#000">5</text>
<text transform="translate(34.5,67.35) scale(1.13,1.03)" text-anchor="end" font-family="Liberation Sans, sans-serif" font-size="14.0" fill="#000">6</text>
<text transform="translate(34.5,15.40) scale(1.13,1.03)" text-anchor="end" font-family="Liberation Sans, sans-serif" font-size="14.0" fill="#000">7</text>
<text transform="translate(38.72,407.1) scale(1.13,1.03)" text-anchor="middle" font-family="Liberation Sans, sans-serif" font-size="14.0" fill="#000">0</text>
<text transform="translate(136.04,407.1) scale(1.13,1.03)" text-anchor="middle" font-family="Liberation Sans, sans-serif" font-size="14.0" fill="#000">2</text>
<text transform="translate(233.36,407.1) scale(1.13,1.03)" text-anchor="middle" font-family="Liberation Sans, sans-serif" font-size="14.0" fill="#000">4</text>
<text transform="translate(330.68,407.1) scale(1.13,1.03)" text-anchor="middle" font-family="Liberation Sans, sans-serif" font-size="14.0" fill="#000">6</text>
<text transform="translate(428.00,407.1) scale(1.13,1.03)" text-anchor="middle" font-family="Liberation Sans, sans-serif" font-size="14.0" fill="#000">8</text>
<text transform="translate(72.79,62.90) scale(1.016,0.988)" font-family="Liberation Sans, sans-serif" font-size="14.0" font-style="italic" fill="#000">θ</text>
<text transform="translate(81.53,63.90) scale(0.957,0.770)" font-family="Liberation Sans, sans-serif" font-size="14.0" fill="#000">=</text>
<text transform="translate(90.16,62.90) scale(0.859,0.970)" font-family="Liberation Sans, sans-serif" font-size="14.0" font-style="italic" fill="#000">π</text>
<text transform="translate(100.40,62.90) scale(1.091,0.995)" font-family="Liberation Sans, sans-serif" font-size="14.0" fill="#000">/</text>
<text transform="translate(105.66,62.90) scale(0.973,1.020)" font-family="Liberation Sans, sans-serif" font-size="14.0" fill="#000">3</text>
<text transform="translate(113.48,62.90) scale(1.203,1.000)" font-family="Liberation Sans, sans-serif" font-size="14.0" fill="#000">.</text>
<text transform="translate(72.38,93.30) scale(0.995,1.035)" font-family="Liberation Sans, sans-serif" font-size="14.0" fill="#000">Δ</text>
<text transform="translate(81.68,93.30) scale(1.126,1.019)" font-family="Liberation Sans, sans-serif" font-size="14.0" fill="#000">n</text>
<text transform="translate(92.10,93.30) scale(1.169,0.995)" font-family="Liberation Sans, sans-serif" font-size="14.0" fill="#000">/</text>
<text transform="translate(96.72,93.30) scale(1.006,1.028)" font-family="Liberation Sans, sans-serif" font-size="14.0" font-style="italic" fill="#000">n</text>
<text transform="translate(105.03,94.30) scale(0.957,0.770)" font-family="Liberation Sans, sans-serif" font-size="14.0" fill="#000">=</text>
<text transform="translate(113.38,93.30) scale(1.063,1.035)" font-family="Liberation Sans, sans-serif" font-size="14.0" fill="#000">1</text>
<text transform="translate(121.78,93.30) scale(1.203,1.000)" font-family="Liberation Sans, sans-serif" font-size="14.0" fill="#000">.</text>
<text transform="translate(72.43,122.70) scale(0.885,1.025)" font-family="Liberation Sans, sans-serif" font-size="14.0" font-style="italic" fill="#000">B</text>
<text transform="translate(87.68,122.70) scale(0.992,1.025)" font-family="Liberation Sans, sans-serif" font-size="14.0" font-style="italic" fill="#000">B</text>
<text transform="translate(98.01,125.90) scale(1.204,1.064)" font-family="Liberation Sans, sans-serif" font-size="9.8" font-style="italic" fill="#000">Q</text>
<text transform="translate(107.44,123.70) scale(0.943,0.770)" font-family="Liberation Sans, sans-serif" font-size="14.0" fill="#000">=</text>
<text transform="translate(115.94,122.80) scale(1.008,1.031)" font-family="Liberation Sans, sans-serif" font-size="14.0" fill="#000">0</text>
<text transform="translate(72.21,155.70) scale(0.938,1.051)" font-family="Liberation Sans, sans-serif" font-size="14.0" fill="#000">Θ</text>
<text transform="translate(82.94,156.60) scale(0.943,0.770)" font-family="Liberation Sans, sans-serif" font-size="14.0" fill="#000">=</text>
<text transform="translate(91.72,155.60) scale(1.030,1.035)" font-family="Liberation Sans, sans-serif" font-size="14.0" fill="#000">1</text>
<text transform="translate(100.09,155.70) scale(1.098,1.041)" font-family="Liberation Sans, sans-serif" font-size="14.0" fill="#000">0</text>
<text transform="translate(86.65,231.30) scale(1.039,1.041)" font-family="Liberation Sans, sans-serif" font-size="14.0" fill="#808080">Ω</text>
<text transform="translate(97.82,232.30) scale(0.972,0.770)" font-family="Liberation Sans, sans-serif" font-size="14.0" fill="#808080">=</text>
<text transform="translate(106.62,231.40) scale(1.033,1.041)" font-family="Liberation Sans, sans-serif" font-size="14.0" fill="#808080">3</text>
<text transform="translate(292.33,314.50) scale(0.956,0.926)" font-family="Liberation Sans, sans-serif" font-size="14.0" font-style="italic" fill="#808080">ω</text>
<text transform="translate(303.38,317.20) scale(1.006,1.000)" font-family="Liberation Sans, sans-serif" font-size="11.2" font-style="italic" fill="#808080">p</text>
<text transform="translate(309.85,315.40) scale(0.928,0.770)" font-family="Liberation Sans, sans-serif" font-size="14.0" fill="#808080">=</text>
<text transform="translate(318.96,314.40) scale(0.897,1.025)" font-family="Liberation Sans, sans-serif" font-size="14.0" fill="#808080">1</text>
<text transform="translate(106.56,265.40) scale(1.011,1.031)" font-family="Liberation Sans, sans-serif" font-size="14.0" fill="#000">O</text>
<text transform="translate(165.22,280.00) scale(1.143,1.035)" font-family="Liberation Sans, sans-serif" font-size="14.0" fill="#000">Z</text>
<text transform="translate(101.93,352.80) scale(0.940,1.035)" font-family="Liberation Sans, sans-serif" font-size="14.0" fill="#000">W</text>
<text transform="translate(301.56,68.10) scale(0.979,1.046)" font-family="Liberation Sans, sans-serif" font-size="14.0" fill="#000">X</text>
<text transform="translate(354.79,192.20) scale(0.995,1.035)" font-family="Liberation Sans, sans-serif" font-size="14.0" fill="#000">L</text>
<text transform="translate(228.78,432.70) scale(1.061,1.034)" font-family="Liberation Sans, sans-serif" font-size="14.0" font-style="italic" fill="#000">k</text>
<text transform="translate(14.4,200.49) rotate(-90) scale(0.996,1.085)" font-family="Liberation Sans, sans-serif" font-size="14.0" font-style="italic" fill="#000">ω</text>
<line x1="82.9" y1="127.6" x2="87.8" y2="110.8" stroke="#000" stroke-width="1.0"/>
</svg></body></html>
